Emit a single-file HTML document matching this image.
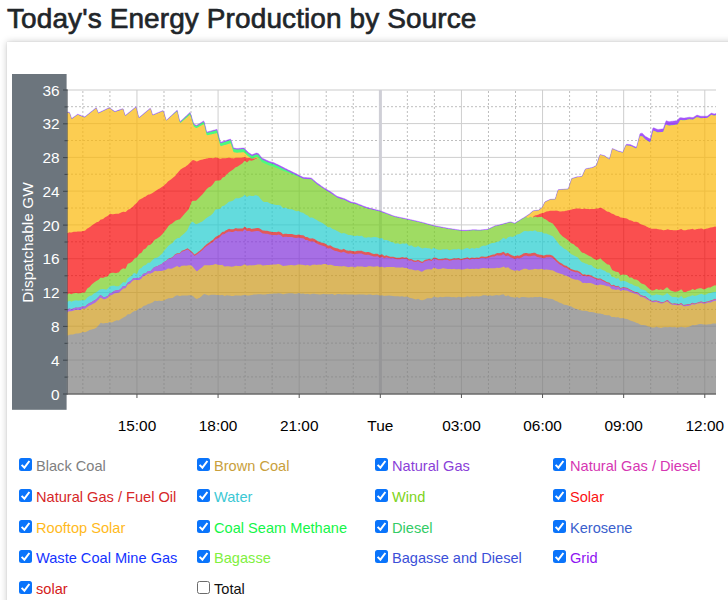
<!DOCTYPE html>
<html lang="en">
<head>
<meta charset="utf-8">
<title>Today's Energy Production by Source</title>
<style>
html,body{margin:0;padding:0;background:#fff;}
body{width:728px;height:600px;overflow:hidden;position:relative;font-family:"Liberation Sans",sans-serif;color:#212529;}
h3{position:absolute;left:7px;top:2px;margin:0;font-size:28px;line-height:34px;font-weight:400;color:#212529;white-space:nowrap;letter-spacing:0.1px;-webkit-text-stroke:0.65px #212529;}
.card{position:absolute;left:7px;top:41.5px;width:760px;height:640px;background:#fff;box-shadow:0 0 7px rgba(0,0,0,.22),0 0 1px rgba(0,0,0,.12);}
.chart{position:absolute;left:0;top:0;}
.gmaj{stroke:#cecece;stroke-width:1;}
.gmin{stroke:#bebebe;stroke-width:1;stroke-dasharray:2 2;}
.gtop{stroke:#dcdcdc;stroke-width:1.6;}
.gday{stroke:#cfcfd6;stroke-width:3;}
.axis{stroke:#4d555c;stroke-width:1.2;}
.axisx{stroke:#6a6a6a;stroke-width:1.4;}
.tick{stroke:#3f464c;stroke-width:1;}
.xtick{stroke:#555;stroke-width:1;}
.yl{font-family:"Liberation Sans",sans-serif;font-size:15.4px;fill:#fff;text-anchor:end;}
.xl{font-family:"Liberation Sans",sans-serif;font-size:15.4px;fill:#000;text-anchor:middle;}
.ylab{font-family:"Liberation Sans",sans-serif;font-size:15.4px;fill:#fff;text-anchor:middle;letter-spacing:0.05px;}
.li{position:absolute;display:block;height:14px;white-space:nowrap;font-size:14.6px;line-height:14px;}
.cb{position:absolute;left:0;top:0;width:13px;height:13px;box-sizing:border-box;border-radius:2.5px;display:block;}
.cb.on{background:#0a74fb;}
.cb.on svg{position:absolute;left:0;top:0;}
.cb.off{border:1.3px solid #6b6b6b;background:#fff;border-radius:2.5px;}
.lt{position:absolute;left:17px;top:1px;}
</style>
</head>
<body>
<h3>Today's Energy Production by Source</h3>
<div class="card"></div>
<svg class="chart" width="728" height="600" viewBox="0 0 728 600">
<rect x="12" y="74" width="54.6" height="335.8" fill="#6c757d"/>
<g class="grid">
<line x1="67.0" y1="90.0" x2="716.0" y2="90.0" class="gtop"/>
<line x1="82.87" y1="91.0" x2="82.87" y2="394.0" class="gmin"/>
<line x1="109.91" y1="91.0" x2="109.91" y2="394.0" class="gmin"/>
<line x1="136.95" y1="90.0" x2="136.95" y2="394.0" class="gmaj"/>
<line x1="163.99" y1="91.0" x2="163.99" y2="394.0" class="gmin"/>
<line x1="191.03" y1="91.0" x2="191.03" y2="394.0" class="gmin"/>
<line x1="218.07" y1="90.0" x2="218.07" y2="394.0" class="gmaj"/>
<line x1="245.11" y1="91.0" x2="245.11" y2="394.0" class="gmin"/>
<line x1="272.15" y1="91.0" x2="272.15" y2="394.0" class="gmin"/>
<line x1="299.19" y1="90.0" x2="299.19" y2="394.0" class="gmaj"/>
<line x1="326.23" y1="91.0" x2="326.23" y2="394.0" class="gmin"/>
<line x1="353.27" y1="91.0" x2="353.27" y2="394.0" class="gmin"/>
<line x1="407.35" y1="91.0" x2="407.35" y2="394.0" class="gmin"/>
<line x1="434.39" y1="91.0" x2="434.39" y2="394.0" class="gmin"/>
<line x1="461.43" y1="90.0" x2="461.43" y2="394.0" class="gmaj"/>
<line x1="488.47" y1="91.0" x2="488.47" y2="394.0" class="gmin"/>
<line x1="515.51" y1="91.0" x2="515.51" y2="394.0" class="gmin"/>
<line x1="542.55" y1="90.0" x2="542.55" y2="394.0" class="gmaj"/>
<line x1="569.59" y1="91.0" x2="569.59" y2="394.0" class="gmin"/>
<line x1="596.63" y1="91.0" x2="596.63" y2="394.0" class="gmin"/>
<line x1="623.67" y1="90.0" x2="623.67" y2="394.0" class="gmaj"/>
<line x1="650.71" y1="91.0" x2="650.71" y2="394.0" class="gmin"/>
<line x1="677.75" y1="91.0" x2="677.75" y2="394.0" class="gmin"/>
<line x1="704.79" y1="90.0" x2="704.79" y2="394.0" class="gmaj"/>
<line x1="67.0" y1="376.9" x2="716.0" y2="376.9" class="gmin"/>
<line x1="67.0" y1="360.0" x2="716.0" y2="360.0" class="gmaj"/>
<line x1="67.0" y1="343.1" x2="716.0" y2="343.1" class="gmin"/>
<line x1="67.0" y1="326.2" x2="716.0" y2="326.2" class="gmaj"/>
<line x1="67.0" y1="309.4" x2="716.0" y2="309.4" class="gmin"/>
<line x1="67.0" y1="292.5" x2="716.0" y2="292.5" class="gmaj"/>
<line x1="67.0" y1="275.6" x2="716.0" y2="275.6" class="gmin"/>
<line x1="67.0" y1="258.7" x2="716.0" y2="258.7" class="gmaj"/>
<line x1="67.0" y1="241.8" x2="716.0" y2="241.8" class="gmin"/>
<line x1="67.0" y1="224.9" x2="716.0" y2="224.9" class="gmaj"/>
<line x1="67.0" y1="208.0" x2="716.0" y2="208.0" class="gmin"/>
<line x1="67.0" y1="191.1" x2="716.0" y2="191.1" class="gmaj"/>
<line x1="67.0" y1="174.2" x2="716.0" y2="174.2" class="gmin"/>
<line x1="67.0" y1="157.4" x2="716.0" y2="157.4" class="gmaj"/>
<line x1="67.0" y1="140.5" x2="716.0" y2="140.5" class="gmin"/>
<line x1="67.0" y1="123.6" x2="716.0" y2="123.6" class="gmaj"/>
<line x1="67.0" y1="106.7" x2="716.0" y2="106.7" class="gmin"/>
<line x1="380.4" y1="90.0" x2="380.4" y2="394.0" class="gday"/>
</g>
<g class="layers" opacity="0.7">
<polygon points="67.00,112.20 67.75,112.20 68.50,112.20 69.25,112.20 70.00,113.72 70.75,116.01 71.50,118.30 72.25,118.13 73.00,117.59 73.75,117.05 74.50,116.51 75.25,115.97 76.00,115.43 76.75,114.89 77.50,114.34 78.25,114.42 79.00,114.73 79.75,115.03 80.50,115.34 81.25,115.64 82.00,115.94 82.75,116.25 83.50,116.55 84.25,116.86 85.00,116.68 85.75,116.08 86.50,115.47 87.25,114.87 88.00,114.27 88.75,113.67 89.50,113.06 90.25,112.46 91.00,111.86 91.75,111.26 92.50,110.65 93.25,110.05 94.00,109.45 94.75,108.85 95.50,108.24 96.25,107.64 97.00,109.46 97.75,111.44 98.50,112.80 99.25,112.44 100.00,112.08 100.75,111.72 101.50,111.36 102.25,111.00 103.00,110.64 103.75,110.27 104.50,109.91 105.25,109.55 106.00,109.19 106.75,108.83 107.50,108.47 108.25,108.11 109.00,107.74 109.75,107.92 110.50,108.45 111.25,108.98 112.00,109.51 112.75,110.05 113.50,110.58 114.25,111.11 115.00,111.43 115.75,111.16 116.50,110.89 117.25,110.61 118.00,110.34 118.75,110.07 119.50,109.80 120.25,109.53 121.00,109.26 121.75,108.99 122.50,108.72 123.25,109.03 124.00,111.70 124.75,114.36 125.50,115.28 126.25,114.67 127.00,114.06 127.75,113.46 128.50,112.85 129.25,112.24 130.00,111.64 130.75,111.03 131.50,110.42 132.25,109.81 133.00,109.21 133.75,108.60 134.50,107.99 135.25,107.39 136.00,106.78 136.75,109.25 137.50,112.20 138.25,115.15 139.00,117.62 139.75,116.99 140.50,116.36 141.25,115.73 142.00,115.11 142.75,114.48 143.50,113.85 144.25,113.23 145.00,112.60 145.75,111.97 146.50,111.34 147.25,110.72 148.00,110.09 148.75,109.46 149.50,108.84 150.25,108.21 151.00,109.64 151.75,112.11 152.50,114.57 153.25,114.63 154.00,114.32 154.75,114.00 155.50,113.69 156.25,113.38 157.00,113.07 157.75,112.75 158.50,112.44 159.25,112.13 160.00,111.82 160.75,111.50 161.50,111.19 162.25,110.88 163.00,110.57 163.75,111.65 164.50,114.33 165.25,117.01 166.00,119.69 166.75,119.88 167.50,119.18 168.25,118.48 169.00,117.78 169.75,117.08 170.50,116.37 171.25,115.67 172.00,114.97 172.75,114.27 173.50,113.56 174.25,112.86 175.00,112.16 175.75,111.46 176.50,110.76 177.25,110.32 178.00,113.57 178.75,116.82 179.50,120.07 180.25,121.47 181.00,120.77 181.75,120.08 182.50,119.38 183.25,118.68 184.00,117.98 184.75,117.28 185.50,116.58 186.25,115.88 187.00,115.18 187.75,114.48 188.50,113.78 189.25,113.09 190.00,112.39 190.75,114.02 191.50,116.51 192.25,118.99 193.00,121.48 193.75,123.83 194.50,124.30 195.25,124.78 196.00,125.25 196.75,125.28 197.50,124.82 198.25,124.36 199.00,123.89 199.75,123.43 200.50,122.96 201.25,122.50 202.00,122.04 202.75,121.57 203.50,121.11 204.25,121.85 205.00,124.99 205.75,128.12 206.50,131.26 207.25,131.95 208.00,131.75 208.75,131.54 209.50,131.34 210.25,131.13 211.00,130.93 211.75,130.73 212.50,130.52 213.25,130.32 214.00,130.12 214.75,129.91 215.50,129.71 216.25,129.50 217.00,129.30 217.75,132.19 218.50,135.08 219.25,137.97 220.00,140.86 220.75,142.28 221.50,142.04 222.25,141.79 223.00,141.54 223.75,141.29 224.50,141.05 225.25,140.80 226.00,140.55 226.75,140.30 227.50,140.06 228.25,139.81 229.00,139.56 229.75,139.31 230.50,139.07 231.25,140.75 232.00,143.13 232.75,145.52 233.50,147.90 234.25,148.05 235.00,148.21 235.75,148.36 236.50,148.52 237.25,148.56 238.00,148.49 238.75,148.41 239.50,148.34 240.25,148.26 241.00,148.18 241.75,148.11 242.50,148.03 243.25,147.96 244.00,148.10 244.75,148.85 245.50,149.60 246.25,150.35 247.00,151.10 247.75,151.85 248.50,152.41 249.25,152.92 250.00,153.43 250.75,153.95 251.50,154.46 252.25,154.69 253.00,154.37 253.75,154.05 254.50,153.73 255.25,153.41 256.00,153.09 256.75,153.12 257.50,153.30 258.25,153.47 259.00,154.27 259.75,155.24 260.50,156.20 261.25,157.16 262.00,158.05 262.75,158.40 263.50,158.75 264.25,159.11 265.00,159.46 265.75,159.81 266.50,160.16 267.25,160.52 268.00,160.87 268.75,161.22 269.50,161.45 270.25,161.68 271.00,161.91 271.75,162.14 272.50,162.37 273.25,162.61 274.00,162.84 274.75,163.16 275.50,163.52 276.25,163.88 277.00,164.23 277.75,164.59 278.50,164.95 279.25,165.34 280.00,165.72 280.75,166.10 281.50,166.49 282.25,166.87 283.00,167.25 283.75,167.62 284.50,168.00 285.25,168.38 286.00,168.75 286.75,169.12 287.50,169.50 288.25,169.88 289.00,170.25 289.75,170.62 290.50,170.99 291.25,171.36 292.00,171.73 292.75,172.10 293.50,172.47 294.25,172.84 295.00,173.21 295.75,173.58 296.50,173.95 297.25,174.33 298.00,174.71 298.75,175.09 299.50,175.47 300.25,175.85 301.00,176.23 301.75,176.62 302.50,177.00 303.25,177.31 304.00,177.38 304.75,177.44 305.50,177.50 306.25,177.57 307.00,177.63 307.75,177.70 308.50,177.76 309.25,177.82 310.00,177.89 310.75,177.95 311.50,178.17 312.25,178.83 313.00,179.48 313.75,180.14 314.50,180.79 315.25,181.45 316.00,182.10 316.75,182.76 317.50,183.29 318.25,183.81 319.00,184.33 319.75,184.85 320.50,185.37 321.25,185.90 322.00,186.42 322.75,186.94 323.50,187.46 324.25,187.93 325.00,188.38 325.75,188.84 326.50,189.29 327.25,189.74 328.00,190.19 328.75,190.64 329.50,191.10 330.25,191.55 331.00,192.05 331.75,192.57 332.50,193.09 333.25,193.61 334.00,194.13 334.75,194.66 335.50,195.18 336.25,195.70 337.00,196.22 337.75,196.61 338.50,196.83 339.25,197.06 340.00,197.29 340.75,197.52 341.50,197.75 342.25,197.98 343.00,198.20 343.75,198.43 344.50,198.70 345.25,199.07 346.00,199.44 346.75,199.81 347.50,200.18 348.25,200.55 349.00,200.92 349.75,201.29 350.50,201.66 351.25,202.01 352.00,202.15 352.75,202.29 353.50,202.42 354.25,202.56 355.00,202.70 355.75,202.99 356.50,203.29 357.25,203.58 358.00,203.88 358.75,204.17 359.50,204.46 360.25,204.76 361.00,205.05 361.75,205.34 362.50,205.64 363.25,205.93 364.00,206.22 364.75,206.52 365.50,206.81 366.25,207.11 367.00,207.40 367.75,207.59 368.50,207.78 369.25,207.97 370.00,208.16 370.75,208.35 371.50,208.54 372.25,208.73 373.00,208.92 373.75,209.11 374.50,209.30 375.25,209.49 376.00,209.68 376.75,209.88 377.50,210.07 378.25,210.26 379.00,210.45 379.75,210.64 380.50,210.89 381.25,211.18 382.00,211.46 382.75,211.75 383.50,212.04 384.25,212.32 385.00,212.61 385.75,212.90 386.50,213.18 387.25,213.47 388.00,213.76 388.75,214.04 389.50,214.33 390.25,214.61 391.00,214.90 391.75,215.19 392.50,215.47 393.25,215.76 394.00,216.05 394.75,216.27 395.50,216.43 396.25,216.59 397.00,216.75 397.75,216.91 398.50,217.06 399.25,217.22 400.00,217.38 400.75,217.54 401.50,217.70 402.25,217.86 403.00,218.01 403.75,218.17 404.50,218.33 405.25,218.49 406.00,218.65 406.75,218.81 407.50,218.97 408.25,219.14 409.00,219.31 409.75,219.48 410.50,219.66 411.25,219.83 412.00,220.00 412.75,220.17 413.50,220.34 414.25,220.52 415.00,220.69 415.75,220.86 416.50,221.03 417.25,221.20 418.00,221.38 418.75,221.55 419.50,221.72 420.25,221.89 421.00,222.06 421.75,222.24 422.50,222.45 423.25,222.65 424.00,222.86 424.75,223.06 425.50,223.27 426.25,223.47 427.00,223.68 427.75,223.88 428.50,224.09 429.25,224.29 430.00,224.50 430.75,224.70 431.50,224.91 432.25,225.11 433.00,225.32 433.75,225.52 434.50,225.72 435.25,225.86 436.00,226.00 436.75,226.14 437.50,226.28 438.25,226.42 439.00,226.56 439.75,226.70 440.50,226.84 441.25,226.98 442.00,227.12 442.75,227.27 443.50,227.41 444.25,227.55 445.00,227.69 445.75,227.83 446.50,227.97 447.25,228.11 448.00,228.25 448.75,228.39 449.50,228.50 450.25,228.62 451.00,228.73 451.75,228.84 452.50,228.95 453.25,229.07 454.00,229.18 454.75,229.29 455.50,229.40 456.25,229.51 457.00,229.63 457.75,229.74 458.50,229.85 459.25,229.96 460.00,230.08 460.75,230.19 461.50,230.30 462.25,230.30 463.00,230.30 463.75,230.30 464.50,230.30 465.25,230.30 466.00,230.30 466.75,230.30 467.50,230.25 468.25,230.18 469.00,230.10 469.75,230.03 470.50,229.95 471.25,229.88 472.00,229.80 472.75,229.72 473.50,229.72 474.25,229.75 475.00,229.79 475.75,229.82 476.50,229.85 477.25,229.88 478.00,229.91 478.75,229.95 479.50,229.98 480.25,229.97 481.00,229.90 481.75,229.82 482.50,229.75 483.25,229.67 484.00,229.60 484.75,229.53 485.50,229.45 486.25,229.38 487.00,229.30 487.75,229.22 488.50,228.96 489.25,228.59 490.00,228.23 490.75,227.86 491.50,227.50 492.25,227.14 493.00,226.77 493.75,226.41 494.50,226.04 495.25,225.75 496.00,225.58 496.75,225.42 497.50,225.26 498.25,225.09 499.00,224.93 499.75,224.76 500.50,224.55 501.25,224.35 502.00,224.15 502.75,223.94 503.50,223.74 504.25,223.53 505.00,223.33 505.75,223.12 506.50,222.92 507.25,222.71 508.00,222.51 508.75,222.30 509.50,222.10 510.25,221.90 511.00,221.94 511.75,222.19 512.50,222.45 513.25,222.70 514.00,222.96 514.75,223.17 515.50,222.71 516.25,222.26 517.00,221.80 517.75,221.34 518.50,220.89 519.25,220.43 520.00,219.97 520.75,219.52 521.50,219.06 522.25,218.60 523.00,218.14 523.75,217.67 524.50,217.21 525.25,216.74 526.00,216.24 526.75,215.75 527.50,215.25 528.25,214.76 529.00,214.27 529.75,213.65 530.50,213.00 531.25,212.36 532.00,211.72 532.75,211.08 533.50,210.67 534.25,210.59 535.00,210.50 535.75,210.42 536.50,210.34 537.25,210.26 538.00,210.18 538.75,210.06 539.50,209.46 540.25,208.86 541.00,208.26 541.75,207.66 542.50,206.69 543.25,205.16 544.00,203.63 544.75,202.11 545.50,201.53 546.25,201.19 547.00,200.85 547.75,200.50 548.50,200.16 549.25,199.82 550.00,199.48 550.75,199.29 551.50,199.25 552.25,199.22 553.00,199.19 553.75,199.16 554.50,199.13 555.25,198.93 556.00,196.41 556.75,193.90 557.50,191.38 558.25,189.68 559.00,189.61 559.75,189.55 560.50,189.48 561.25,189.42 562.00,189.35 562.75,189.28 563.50,189.22 564.25,189.15 565.00,189.09 565.75,189.02 566.50,188.96 567.25,188.89 568.00,188.83 568.75,187.44 569.50,185.16 570.25,182.89 571.00,180.62 571.75,178.48 572.50,178.25 573.25,178.02 574.00,177.79 574.75,177.56 575.50,177.33 576.25,177.09 577.00,176.86 577.75,176.75 578.50,176.69 579.25,176.63 580.00,176.57 580.75,176.50 581.50,176.44 582.25,175.84 583.00,174.16 583.75,172.49 584.50,170.81 585.25,169.14 586.00,168.69 586.75,168.55 587.50,168.40 588.25,168.26 589.00,168.12 589.75,167.98 590.50,167.84 591.25,167.70 592.00,167.56 592.75,167.27 593.50,166.89 594.25,166.50 595.00,166.12 595.75,165.73 596.50,165.09 597.25,162.73 598.00,160.37 598.75,158.01 599.50,155.66 600.25,154.50 601.00,154.72 601.75,154.94 602.50,155.16 603.25,155.38 604.00,155.60 604.75,155.84 605.50,156.37 606.25,156.90 607.00,157.43 607.75,157.96 608.50,158.49 609.25,159.02 610.00,157.22 610.75,154.25 611.50,151.27 612.25,148.52 613.00,148.82 613.75,149.12 614.50,149.43 615.25,149.73 616.00,150.03 616.75,150.33 617.50,150.64 618.25,150.94 619.00,151.16 619.75,151.37 620.50,151.57 621.25,151.78 622.00,151.98 622.75,152.19 623.50,150.55 624.25,148.79 625.00,147.02 625.75,145.26 626.50,144.23 627.25,144.30 628.00,144.37 628.75,144.44 629.50,144.51 630.25,144.59 631.00,144.88 631.75,145.22 632.50,145.56 633.25,145.91 634.00,146.25 634.75,146.60 635.50,146.94 636.25,147.29 637.00,145.44 637.75,142.51 638.50,139.57 639.25,136.64 640.00,133.70 640.75,133.44 641.50,133.18 642.25,133.24 643.00,133.97 643.75,134.70 644.50,135.43 645.25,136.16 646.00,136.68 646.75,137.10 647.50,137.53 648.25,137.95 649.00,138.37 649.75,138.79 650.50,138.24 651.25,135.02 652.00,131.80 652.75,128.57 653.50,127.71 654.25,128.02 655.00,128.33 655.75,128.65 656.50,128.96 657.25,129.27 658.00,129.47 658.75,129.38 659.50,129.28 660.25,129.19 661.00,129.09 661.75,129.00 662.50,128.90 663.25,128.81 664.00,126.75 664.75,124.55 665.50,122.36 666.25,120.66 667.00,120.97 667.75,121.27 668.50,121.58 669.25,121.64 670.00,121.54 670.75,121.44 671.50,121.34 672.25,121.24 673.00,121.14 673.75,121.04 674.50,120.94 675.25,120.85 676.00,120.75 676.75,120.65 677.50,120.16 678.25,119.32 679.00,118.49 679.75,117.66 680.50,117.69 681.25,117.78 682.00,117.87 682.75,117.96 683.50,118.05 684.25,118.04 685.00,117.92 685.75,117.80 686.50,117.67 687.25,117.55 688.00,117.43 688.75,117.31 689.50,117.21 690.25,117.30 691.00,117.38 691.75,117.47 692.50,117.55 693.25,117.39 694.00,116.93 694.75,116.47 695.50,116.01 696.25,115.56 697.00,115.10 697.75,115.34 698.50,115.59 699.25,115.83 700.00,116.07 700.75,116.20 701.50,116.20 702.25,116.20 703.00,116.20 703.75,116.20 704.50,116.20 705.25,116.20 706.00,116.20 706.75,116.20 707.50,116.04 708.25,115.46 709.00,114.87 709.75,114.29 710.50,113.70 711.25,113.12 712.00,113.24 712.75,113.53 713.50,113.82 714.25,114.08 715.00,113.83 715.75,113.58 716.00,113.50 716.00,394.0 67.00,394.0" fill="#7d0ef6"/>
<polygon points="67.00,112.80 67.75,112.80 68.50,112.80 69.25,112.80 70.00,114.32 70.75,116.61 71.50,118.90 72.25,118.73 73.00,118.19 73.75,117.65 74.50,117.11 75.25,116.57 76.00,116.03 76.75,115.49 77.50,114.94 78.25,115.02 79.00,115.33 79.75,115.63 80.50,115.94 81.25,116.24 82.00,116.54 82.75,116.85 83.50,117.15 84.25,117.46 85.00,117.28 85.75,116.68 86.50,116.07 87.25,115.47 88.00,114.87 88.75,114.27 89.50,113.66 90.25,113.06 91.00,112.46 91.75,111.86 92.50,111.25 93.25,110.65 94.00,110.05 94.75,109.45 95.50,108.84 96.25,108.24 97.00,110.06 97.75,112.04 98.50,113.40 99.25,113.04 100.00,112.68 100.75,112.32 101.50,111.96 102.25,111.60 103.00,111.24 103.75,110.87 104.50,110.51 105.25,110.15 106.00,109.79 106.75,109.43 107.50,109.07 108.25,108.71 109.00,108.34 109.75,108.52 110.50,109.05 111.25,109.58 112.00,110.11 112.75,110.65 113.50,111.18 114.25,111.71 115.00,112.03 115.75,111.76 116.50,111.49 117.25,111.21 118.00,110.94 118.75,110.67 119.50,110.40 120.25,110.13 121.00,109.86 121.75,109.59 122.50,109.32 123.25,109.63 124.00,112.30 124.75,114.96 125.50,115.88 126.25,115.27 127.00,114.66 127.75,114.06 128.50,113.45 129.25,112.84 130.00,112.24 130.75,111.63 131.50,111.02 132.25,110.41 133.00,109.81 133.75,109.20 134.50,108.59 135.25,107.99 136.00,107.38 136.75,109.85 137.50,112.80 138.25,115.75 139.00,118.22 139.75,117.59 140.50,116.96 141.25,116.33 142.00,115.71 142.75,115.08 143.50,114.45 144.25,113.83 145.00,113.20 145.75,112.57 146.50,111.94 147.25,111.32 148.00,110.69 148.75,110.06 149.50,109.44 150.25,108.81 151.00,110.24 151.75,112.71 152.50,115.17 153.25,115.23 154.00,114.92 154.75,114.60 155.50,114.29 156.25,113.98 157.00,113.67 157.75,113.35 158.50,113.04 159.25,112.73 160.00,112.42 160.75,112.10 161.50,111.79 162.25,111.48 163.00,111.17 163.75,112.25 164.50,114.93 165.25,117.61 166.00,120.29 166.75,120.48 167.50,119.78 168.25,119.08 169.00,118.38 169.75,117.68 170.50,116.98 171.25,116.28 172.00,115.58 172.75,114.89 173.50,114.19 174.25,113.49 175.00,112.79 175.75,112.10 176.50,111.40 177.25,110.97 178.00,114.22 178.75,117.47 179.50,120.73 180.25,122.14 181.00,121.45 181.75,120.75 182.50,120.06 183.25,119.37 184.00,118.67 184.75,117.98 185.50,117.28 186.25,116.59 187.00,115.90 187.75,115.20 188.50,114.51 189.25,113.81 190.00,113.12 190.75,114.76 191.50,117.25 192.25,119.74 193.00,122.23 193.75,124.59 194.50,125.07 195.25,125.54 196.00,126.02 196.75,126.06 197.50,125.60 198.25,125.14 199.00,124.69 199.75,124.23 200.50,123.77 201.25,123.31 202.00,122.85 202.75,122.39 203.50,121.93 204.25,122.67 205.00,125.81 205.75,128.95 206.50,132.10 207.25,132.79 208.00,132.59 208.75,132.39 209.50,132.19 210.25,131.99 211.00,131.79 211.75,131.59 212.50,131.39 213.25,131.19 214.00,130.99 214.75,130.79 215.50,130.59 216.25,130.39 217.00,130.19 217.75,133.08 218.50,135.97 219.25,138.87 220.00,141.76 220.75,143.19 221.50,142.94 222.25,142.70 223.00,142.46 223.75,142.21 224.50,141.97 225.25,141.73 226.00,141.48 226.75,141.24 227.50,140.99 228.25,140.75 229.00,140.51 229.75,140.26 230.50,140.02 231.25,141.70 232.00,144.09 232.75,146.48 233.50,148.87 234.25,149.03 235.00,149.18 235.75,149.34 236.50,149.50 237.25,149.55 238.00,149.48 238.75,149.41 239.50,149.33 240.25,149.27 241.00,149.21 241.75,149.15 242.50,149.09 243.25,149.03 244.00,149.19 244.75,149.96 245.50,150.72 246.25,151.49 247.00,152.26 247.75,153.02 248.50,153.60 249.25,154.13 250.00,154.66 250.75,155.19 251.50,155.71 252.25,155.97 253.00,155.66 253.75,155.36 254.50,155.05 255.25,154.75 256.00,154.44 256.75,154.50 257.50,154.68 258.25,154.87 259.00,155.67 259.75,156.64 260.50,157.60 261.25,158.56 262.00,159.45 262.75,159.80 263.50,160.15 264.25,160.51 265.00,160.86 265.75,161.21 266.50,161.56 267.25,161.92 268.00,162.27 268.75,162.62 269.50,162.85 270.25,163.08 271.00,163.31 271.75,163.54 272.50,163.77 273.25,164.01 274.00,164.24 274.75,164.56 275.50,164.92 276.25,165.28 277.00,165.63 277.75,165.99 278.50,166.35 279.25,166.74 280.00,167.12 280.75,167.50 281.50,167.89 282.25,168.27 283.00,168.65 283.75,169.03 284.50,169.40 285.25,169.78 286.00,170.15 286.75,170.53 287.50,170.90 288.25,171.28 289.00,171.65 289.75,172.02 290.50,172.39 291.25,172.76 292.00,173.13 292.75,173.50 293.50,173.87 294.25,174.24 295.00,174.61 295.75,174.98 296.50,175.35 297.25,175.73 298.00,176.11 298.75,176.49 299.50,176.87 300.25,177.25 301.00,177.63 301.75,178.02 302.50,178.40 303.25,178.71 304.00,178.78 304.75,178.84 305.50,178.90 306.25,178.97 307.00,179.03 307.75,179.10 308.50,179.16 309.25,179.22 310.00,179.29 310.75,179.35 311.50,179.57 312.25,180.23 313.00,180.88 313.75,181.54 314.50,182.19 315.25,182.85 316.00,183.50 316.75,184.16 317.50,184.69 318.25,185.21 319.00,185.73 319.75,186.25 320.50,186.77 321.25,187.30 322.00,187.82 322.75,188.34 323.50,188.86 324.25,189.33 325.00,189.78 325.75,190.24 326.50,190.69 327.25,191.14 328.00,191.59 328.75,192.04 329.50,192.50 330.25,192.95 331.00,193.45 331.75,193.97 332.50,194.49 333.25,195.01 334.00,195.53 334.75,196.06 335.50,196.58 336.25,197.10 337.00,197.62 337.75,198.01 338.50,198.23 339.25,198.46 340.00,198.69 340.75,198.92 341.50,199.15 342.25,199.38 343.00,199.60 343.75,199.83 344.50,200.10 345.25,200.47 346.00,200.83 346.75,201.19 347.50,201.55 348.25,201.91 349.00,202.27 349.75,202.63 350.50,202.99 351.25,203.33 352.00,203.46 352.75,203.59 353.50,203.72 354.25,203.85 355.00,203.98 355.75,204.26 356.50,204.55 357.25,204.83 358.00,205.12 358.75,205.40 359.50,205.69 360.25,205.97 361.00,206.26 361.75,206.54 362.50,206.83 363.25,207.11 364.00,207.40 364.75,207.68 365.50,207.97 366.25,208.25 367.00,208.54 367.75,208.72 368.50,208.90 369.25,209.08 370.00,209.26 370.75,209.44 371.50,209.62 372.25,209.80 373.00,209.98 373.75,210.16 374.50,210.34 375.25,210.52 376.00,210.69 376.75,210.87 377.50,211.05 378.25,211.23 379.00,211.41 379.75,211.59 380.50,211.83 381.25,212.11 382.00,212.38 382.75,212.66 383.50,212.93 384.25,213.21 385.00,213.48 385.75,213.76 386.50,214.04 387.25,214.31 388.00,214.59 388.75,214.86 389.50,215.14 390.25,215.41 391.00,215.70 391.75,215.98 392.50,216.27 393.25,216.55 394.00,216.84 394.75,217.06 395.50,217.22 396.25,217.38 397.00,217.53 397.75,217.69 398.50,217.85 399.25,218.00 400.00,218.16 400.75,218.31 401.50,218.47 402.25,218.63 403.00,218.78 403.75,218.94 404.50,219.10 405.25,219.25 406.00,219.41 406.75,219.57 407.50,219.73 408.25,219.90 409.00,220.07 409.75,220.24 410.50,220.41 411.25,220.58 412.00,220.75 412.75,220.92 413.50,221.09 414.25,221.26 415.00,221.43 415.75,221.60 416.50,221.77 417.25,221.94 418.00,222.11 418.75,222.28 419.50,222.45 420.25,222.62 421.00,222.79 421.75,222.97 422.50,223.17 423.25,223.37 424.00,223.58 424.75,223.78 425.50,223.98 426.25,224.19 427.00,224.39 427.75,224.59 428.50,224.80 429.25,225.00 430.00,225.20 430.75,225.41 431.50,225.61 432.25,225.81 433.00,226.02 433.75,226.22 434.50,226.42 435.25,226.55 436.00,226.69 436.75,226.83 437.50,226.97 438.25,227.11 439.00,227.25 439.75,227.39 440.50,227.53 441.25,227.67 442.00,227.81 442.75,227.94 443.50,228.08 444.25,228.22 445.00,228.36 445.75,228.50 446.50,228.64 447.25,228.78 448.00,228.92 448.75,229.06 449.50,229.17 450.25,229.28 451.00,229.39 451.75,229.50 452.50,229.61 453.25,229.72 454.00,229.83 454.75,229.94 455.50,230.05 456.25,230.16 457.00,230.27 457.75,230.38 458.50,230.49 459.25,230.60 460.00,230.71 460.75,230.82 461.50,230.94 462.25,230.93 463.00,230.93 463.75,230.93 464.50,230.93 465.25,230.93 466.00,230.92 466.75,230.92 467.50,230.87 468.25,230.79 469.00,230.72 469.75,230.64 470.50,230.56 471.25,230.49 472.00,230.41 472.75,230.33 473.50,230.33 474.25,230.36 475.00,230.39 475.75,230.42 476.50,230.45 477.25,230.48 478.00,230.51 478.75,230.54 479.50,230.57 480.25,230.57 481.00,230.49 481.75,230.41 482.50,230.34 483.25,230.26 484.00,230.18 484.75,230.11 485.50,230.03 486.25,229.95 487.00,229.88 487.75,229.80 488.50,229.53 489.25,229.16 490.00,228.80 490.75,228.43 491.50,228.07 492.25,227.70 493.00,227.33 493.75,226.97 494.50,226.60 495.25,226.30 496.00,226.14 496.75,225.97 497.50,225.81 498.25,225.64 499.00,225.48 499.75,225.31 500.50,225.10 501.25,224.89 502.00,224.69 502.75,224.48 503.50,224.27 504.25,224.07 505.00,223.86 505.75,223.66 506.50,223.45 507.25,223.24 508.00,223.04 508.75,222.83 509.50,222.62 510.25,222.42 511.00,222.46 511.75,222.71 512.50,222.97 513.25,223.22 514.00,223.47 514.75,223.68 515.50,223.22 516.25,222.77 517.00,222.31 517.75,221.85 518.50,221.39 519.25,220.93 520.00,220.47 520.75,220.01 521.50,219.55 522.25,219.08 523.00,218.61 523.75,218.13 524.50,217.66 525.25,217.18 526.00,216.68 526.75,216.18 527.50,215.68 528.25,215.18 529.00,214.68 529.75,214.05 530.50,213.40 531.25,212.75 532.00,212.10 532.75,211.46 533.50,211.03 534.25,210.94 535.00,210.85 535.75,210.76 536.50,210.68 537.25,210.59 538.00,210.50 538.75,210.37 539.50,209.77 540.25,209.16 541.00,208.56 541.75,207.96 542.50,206.99 543.25,205.47 544.00,203.94 544.75,202.41 545.50,201.83 546.25,201.50 547.00,201.16 547.75,200.82 548.50,200.48 549.25,200.14 550.00,199.80 550.75,199.60 551.50,199.57 552.25,199.54 553.00,199.51 553.75,199.48 554.50,199.45 555.25,199.25 556.00,196.74 556.75,194.22 557.50,191.70 558.25,190.00 559.00,189.94 559.75,189.87 560.50,189.81 561.25,189.75 562.00,189.68 562.75,189.62 563.50,189.55 564.25,189.49 565.00,189.42 565.75,189.36 566.50,189.29 567.25,189.23 568.00,189.17 568.75,187.78 569.50,185.51 570.25,183.23 571.00,180.96 571.75,178.83 572.50,178.60 573.25,178.37 574.00,178.14 574.75,177.91 575.50,177.67 576.25,177.44 577.00,177.21 577.75,177.11 578.50,177.05 579.25,176.98 580.00,176.92 580.75,176.86 581.50,176.80 582.25,176.20 583.00,174.52 583.75,172.85 584.50,171.17 585.25,169.50 586.00,169.05 586.75,168.91 587.50,168.77 588.25,168.63 589.00,168.49 589.75,168.35 590.50,168.21 591.25,168.07 592.00,167.93 592.75,167.64 593.50,167.26 594.25,166.88 595.00,166.49 595.75,166.11 596.50,165.46 597.25,163.11 598.00,160.75 598.75,158.40 599.50,156.04 600.25,154.89 601.00,155.11 601.75,155.33 602.50,155.55 603.25,155.76 604.00,155.98 604.75,156.23 605.50,156.76 606.25,157.29 607.00,157.82 607.75,158.35 608.50,158.89 609.25,159.42 610.00,157.62 610.75,154.64 611.50,151.67 612.25,148.92 613.00,149.24 613.75,149.55 614.50,149.87 615.25,150.18 616.00,150.50 616.75,150.81 617.50,151.13 618.25,151.44 619.00,151.68 619.75,151.89 620.50,152.10 621.25,152.32 622.00,152.53 622.75,152.75 623.50,151.12 624.25,149.37 625.00,147.61 625.75,145.86 626.50,145.53 627.25,145.60 628.00,145.67 628.75,145.74 629.50,145.81 630.25,145.89 631.00,146.18 631.75,146.52 632.50,146.86 633.25,147.21 634.00,147.55 634.75,147.90 635.50,148.24 636.25,148.59 637.00,146.74 637.75,143.81 638.50,140.87 639.25,137.94 640.00,135.85 640.75,136.45 641.50,136.22 642.25,136.32 643.00,137.08 643.75,137.84 644.50,138.60 645.25,139.36 646.00,139.91 646.75,140.36 647.50,140.82 648.25,141.27 649.00,141.72 649.75,142.18 650.50,141.66 651.25,138.47 652.00,135.28 652.75,131.92 653.50,130.61 654.25,130.93 655.00,131.25 655.75,131.56 656.50,131.88 657.25,132.20 658.00,132.41 658.75,132.32 659.50,132.23 660.25,132.14 661.00,132.06 661.75,131.97 662.50,131.88 663.25,131.79 664.00,129.74 664.75,127.55 665.50,125.36 666.25,124.41 667.00,124.97 667.75,125.27 668.50,125.58 669.25,125.64 670.00,125.54 670.75,125.44 671.50,125.34 672.25,125.24 673.00,125.14 673.75,125.04 674.50,124.94 675.25,124.85 676.00,124.75 676.75,124.65 677.50,124.16 678.25,123.32 679.00,122.49 679.75,120.81 680.50,119.99 681.25,120.07 682.00,120.15 682.75,120.23 683.50,120.31 684.25,120.29 685.00,120.15 685.75,120.02 686.50,119.88 687.25,119.75 688.00,119.61 688.75,119.48 689.50,119.37 690.25,119.45 691.00,119.52 691.75,119.60 692.50,119.67 693.25,119.49 694.00,119.02 694.75,118.55 695.50,118.08 696.25,117.62 697.00,117.15 697.75,117.38 698.50,117.61 699.25,117.84 700.00,118.07 700.75,118.18 701.50,118.16 702.25,118.14 703.00,118.12 703.75,118.11 704.50,118.09 705.25,118.07 706.00,118.05 706.75,118.03 707.50,117.86 708.25,117.25 709.00,116.65 709.75,116.04 710.50,115.44 711.25,114.84 712.00,114.94 712.75,115.21 713.50,115.49 714.25,115.73 715.00,115.46 715.75,115.19 716.00,115.10 716.00,394.0 67.00,394.0" fill="#00f84a"/>
<polygon points="67.00,112.80 67.75,112.80 68.50,112.80 69.25,112.80 70.00,114.32 70.75,116.61 71.50,118.90 72.25,118.73 73.00,118.19 73.75,117.65 74.50,117.11 75.25,116.57 76.00,116.03 76.75,115.49 77.50,114.94 78.25,115.02 79.00,115.33 79.75,115.63 80.50,115.94 81.25,116.24 82.00,116.54 82.75,116.85 83.50,117.15 84.25,117.46 85.00,117.28 85.75,116.68 86.50,116.07 87.25,115.47 88.00,114.87 88.75,114.27 89.50,113.66 90.25,113.06 91.00,112.46 91.75,111.86 92.50,111.25 93.25,110.65 94.00,110.05 94.75,109.45 95.50,108.84 96.25,108.24 97.00,110.06 97.75,112.04 98.50,113.40 99.25,113.04 100.00,112.68 100.75,112.32 101.50,111.96 102.25,111.60 103.00,111.24 103.75,110.87 104.50,110.51 105.25,110.15 106.00,109.79 106.75,109.43 107.50,109.07 108.25,108.71 109.00,108.34 109.75,108.52 110.50,109.05 111.25,109.58 112.00,110.11 112.75,110.65 113.50,111.18 114.25,111.71 115.00,112.03 115.75,111.76 116.50,111.49 117.25,111.21 118.00,110.94 118.75,110.67 119.50,110.40 120.25,110.13 121.00,109.86 121.75,109.59 122.50,109.32 123.25,109.63 124.00,112.30 124.75,114.96 125.50,115.88 126.25,115.27 127.00,114.66 127.75,114.06 128.50,113.45 129.25,112.84 130.00,112.24 130.75,111.63 131.50,111.02 132.25,110.41 133.00,109.81 133.75,109.20 134.50,108.59 135.25,107.99 136.00,107.38 136.75,109.85 137.50,112.80 138.25,115.75 139.00,118.22 139.75,117.59 140.50,116.96 141.25,116.33 142.00,115.71 142.75,115.08 143.50,114.45 144.25,113.83 145.00,113.20 145.75,112.57 146.50,111.94 147.25,111.32 148.00,110.69 148.75,110.06 149.50,109.44 150.25,108.81 151.00,110.24 151.75,112.71 152.50,115.17 153.25,115.23 154.00,114.92 154.75,114.60 155.50,114.29 156.25,113.98 157.00,113.67 157.75,113.35 158.50,113.04 159.25,112.73 160.00,112.42 160.75,112.10 161.50,111.79 162.25,111.48 163.00,111.17 163.75,112.25 164.50,114.93 165.25,117.61 166.00,120.29 166.75,120.48 167.50,119.78 168.25,119.08 169.00,118.38 169.75,117.68 170.50,117.01 171.25,116.37 172.00,115.73 172.75,115.09 173.50,114.45 174.25,113.82 175.00,113.19 175.75,112.57 176.50,111.95 177.25,111.59 178.00,114.92 178.75,118.25 179.50,121.58 180.25,123.07 181.00,122.45 181.75,121.83 182.50,121.21 183.25,120.59 184.00,119.97 184.75,119.35 185.50,118.71 186.25,118.05 187.00,117.39 187.75,116.73 188.50,116.08 189.25,115.42 190.00,114.76 190.75,116.44 191.50,118.96 192.25,121.49 193.00,124.02 193.75,126.41 194.50,126.92 195.25,127.44 196.00,127.95 196.75,128.03 197.50,127.60 198.25,127.18 199.00,126.76 199.75,126.34 200.50,125.91 201.25,125.49 202.00,125.07 202.75,124.64 203.50,124.22 204.25,124.99 205.00,128.17 205.75,131.35 206.50,134.53 207.25,135.26 208.00,135.09 208.75,134.93 209.50,134.77 210.25,134.60 211.00,134.44 211.75,134.27 212.50,134.10 213.25,133.93 214.00,133.76 214.75,133.58 215.50,133.41 216.25,133.24 217.00,133.06 217.75,135.98 218.50,138.90 219.25,141.82 220.00,144.74 220.75,146.20 221.50,145.98 222.25,145.77 223.00,145.55 223.75,145.33 224.50,145.12 225.25,144.90 226.00,144.68 226.75,144.44 227.50,144.19 228.25,143.95 229.00,143.71 229.75,143.46 230.50,143.22 231.25,144.90 232.00,147.29 232.75,149.68 233.50,152.07 234.25,152.23 235.00,152.38 235.75,152.54 236.50,152.70 237.25,152.75 238.00,152.68 238.75,152.61 239.50,152.53 240.25,152.46 241.00,152.38 241.75,152.29 242.50,152.21 243.25,152.13 244.00,152.26 244.75,153.01 245.50,153.75 246.25,154.49 247.00,155.24 247.75,155.98 248.50,156.53 249.25,157.04 250.00,157.54 250.75,158.05 251.50,160.05 252.25,160.28 253.00,158.45 253.75,158.13 254.50,157.80 255.25,157.47 256.00,157.14 256.75,157.20 257.50,157.38 258.25,157.57 259.00,159.87 259.75,160.84 260.50,161.80 261.25,162.76 262.00,163.65 262.75,163.99 263.50,164.34 264.25,164.69 265.00,165.04 265.75,165.38 266.50,165.73 267.25,166.08 268.00,166.42 268.75,166.76 269.50,166.99 270.25,167.22 271.00,167.44 271.75,167.67 272.50,167.89 273.25,168.12 274.00,168.35 274.75,168.66 275.50,168.98 276.25,169.28 277.00,169.58 277.75,169.88 278.50,170.19 279.25,170.52 280.00,170.84 280.75,171.17 281.50,171.50 282.25,171.83 283.00,172.15 283.75,172.45 284.50,172.75 285.25,173.05 286.00,173.35 286.75,173.65 287.50,173.95 288.25,174.25 289.00,174.55 289.75,174.85 290.50,175.14 291.25,175.44 292.00,175.73 292.75,176.03 293.50,176.32 294.25,176.61 295.00,176.91 295.75,177.20 296.50,177.50 297.25,177.81 298.00,178.11 298.75,178.42 299.50,178.72 300.25,179.05 301.00,179.40 301.75,179.76 302.50,180.12 303.25,180.42 304.00,180.46 304.75,180.50 305.50,180.54 306.25,180.58 307.00,180.62 307.75,180.66 308.50,180.71 309.25,180.75 310.00,180.79 310.75,180.85 311.50,181.07 312.25,181.73 313.00,182.38 313.75,183.04 314.50,183.69 315.25,184.35 316.00,185.00 316.75,185.66 317.50,186.19 318.25,186.71 319.00,187.23 319.75,187.75 320.50,188.27 321.25,188.80 322.00,189.32 322.75,189.84 323.50,190.36 324.25,190.83 325.00,191.28 325.75,191.74 326.50,192.19 327.25,192.64 328.00,193.09 328.75,193.54 329.50,194.00 330.25,194.45 331.00,194.95 331.75,195.47 332.50,195.99 333.25,196.51 334.00,197.03 334.75,197.56 335.50,198.08 336.25,198.60 337.00,199.12 337.75,199.51 338.50,199.73 339.25,199.96 340.00,200.19 340.75,200.42 341.50,200.65 342.25,200.88 343.00,201.10 343.75,201.33 344.50,201.60 345.25,201.97 346.00,202.33 346.75,202.69 347.50,203.05 348.25,203.41 349.00,203.77 349.75,204.13 350.50,204.49 351.25,204.83 352.00,204.96 352.75,205.09 353.50,205.22 354.25,205.35 355.00,205.48 355.75,205.76 356.50,206.05 357.25,206.33 358.00,206.62 358.75,206.90 359.50,207.19 360.25,207.47 361.00,207.76 361.75,208.04 362.50,208.33 363.25,208.61 364.00,208.90 364.75,209.18 365.50,209.47 366.25,209.75 367.00,210.04 367.75,210.22 368.50,210.40 369.25,210.58 370.00,210.76 370.75,210.94 371.50,211.12 372.25,211.30 373.00,211.48 373.75,211.66 374.50,211.84 375.25,212.02 376.00,212.19 376.75,212.37 377.50,212.55 378.25,212.73 379.00,212.91 379.75,213.09 380.50,213.33 381.25,213.61 382.00,213.88 382.75,214.16 383.50,214.43 384.25,214.71 385.00,214.98 385.75,215.26 386.50,215.54 387.25,215.81 388.00,216.09 388.75,216.36 389.50,216.64 390.25,216.91 391.00,217.20 391.75,217.48 392.50,217.77 393.25,218.05 394.00,218.34 394.75,218.56 395.50,218.72 396.25,218.88 397.00,219.03 397.75,219.19 398.50,219.35 399.25,219.50 400.00,219.66 400.75,219.81 401.50,219.97 402.25,220.13 403.00,220.28 403.75,220.44 404.50,220.60 405.25,220.75 406.00,220.91 406.75,221.07 407.50,221.23 408.25,221.40 409.00,221.57 409.75,221.74 410.50,221.91 411.25,222.08 412.00,222.25 412.75,222.42 413.50,222.59 414.25,222.76 415.00,222.93 415.75,223.10 416.50,223.27 417.25,223.44 418.00,223.61 418.75,223.78 419.50,223.95 420.25,224.12 421.00,224.29 421.75,224.47 422.50,224.67 423.25,224.87 424.00,225.08 424.75,225.28 425.50,225.48 426.25,225.69 427.00,225.89 427.75,226.09 428.50,226.30 429.25,226.50 430.00,226.70 430.75,226.91 431.50,227.11 432.25,227.31 433.00,227.52 433.75,227.72 434.50,227.92 435.25,228.05 436.00,228.19 436.75,228.33 437.50,228.47 438.25,228.61 439.00,228.75 439.75,228.89 440.50,229.03 441.25,229.17 442.00,229.31 442.75,229.44 443.50,229.58 444.25,229.72 445.00,229.86 445.75,230.00 446.50,230.14 447.25,230.28 448.00,230.42 448.75,230.56 449.50,230.67 450.25,230.78 451.00,230.89 451.75,231.00 452.50,231.11 453.25,231.22 454.00,231.33 454.75,231.44 455.50,231.55 456.25,231.66 457.00,231.77 457.75,231.88 458.50,231.99 459.25,232.10 460.00,232.21 460.75,232.32 461.50,232.44 462.25,232.43 463.00,232.43 463.75,232.43 464.50,232.43 465.25,232.43 466.00,232.42 466.75,232.42 467.50,232.37 468.25,232.29 469.00,232.22 469.75,232.14 470.50,232.06 471.25,231.99 472.00,231.91 472.75,231.83 473.50,231.83 474.25,231.86 475.00,231.89 475.75,231.92 476.50,231.95 477.25,231.98 478.00,232.01 478.75,232.04 479.50,232.07 480.25,232.07 481.00,231.99 481.75,231.91 482.50,231.84 483.25,231.76 484.00,231.68 484.75,231.61 485.50,231.53 486.25,231.45 487.00,231.38 487.75,231.30 488.50,231.03 489.25,230.66 490.00,230.30 490.75,229.93 491.50,229.57 492.25,229.20 493.00,228.83 493.75,228.47 494.50,228.10 495.25,227.80 496.00,227.64 496.75,227.47 497.50,227.31 498.25,227.14 499.00,226.98 499.75,226.81 500.50,226.60 501.25,226.39 502.00,226.19 502.75,225.98 503.50,225.77 504.25,225.57 505.00,225.36 505.75,225.16 506.50,224.95 507.25,224.74 508.00,224.54 508.75,224.33 509.50,224.12 510.25,223.92 511.00,223.96 511.75,224.21 512.50,224.47 513.25,224.72 514.00,224.97 514.75,225.18 515.50,224.72 516.25,224.27 517.00,223.81 517.75,223.35 518.50,222.89 519.25,222.43 520.00,221.97 520.75,221.51 521.50,221.05 522.25,220.58 523.00,220.11 523.75,219.63 524.50,219.16 525.25,218.68 526.00,216.68 526.75,216.18 527.50,215.68 528.25,215.18 529.00,214.68 529.75,214.05 530.50,213.40 531.25,212.75 532.00,212.10 532.75,211.46 533.50,211.03 534.25,210.94 535.00,210.85 535.75,210.76 536.50,210.68 537.25,210.59 538.00,210.50 538.75,210.37 539.50,209.77 540.25,209.16 541.00,208.56 541.75,207.96 542.50,206.99 543.25,205.47 544.00,203.94 544.75,202.41 545.50,201.83 546.25,201.50 547.00,201.16 547.75,200.82 548.50,200.48 549.25,200.14 550.00,199.80 550.75,199.60 551.50,199.57 552.25,199.54 553.00,199.51 553.75,199.48 554.50,199.45 555.25,199.25 556.00,196.74 556.75,194.22 557.50,191.70 558.25,190.00 559.00,189.94 559.75,189.87 560.50,189.81 561.25,189.75 562.00,189.68 562.75,189.62 563.50,189.55 564.25,189.49 565.00,189.42 565.75,189.36 566.50,189.29 567.25,189.23 568.00,189.17 568.75,187.78 569.50,185.51 570.25,183.23 571.00,180.96 571.75,178.83 572.50,178.60 573.25,178.37 574.00,178.14 574.75,177.91 575.50,177.67 576.25,177.44 577.00,177.21 577.75,177.11 578.50,177.05 579.25,176.98 580.00,176.92 580.75,176.86 581.50,176.80 582.25,176.20 583.00,174.52 583.75,172.85 584.50,171.17 585.25,169.50 586.00,169.05 586.75,168.91 587.50,168.77 588.25,168.63 589.00,168.49 589.75,168.35 590.50,168.21 591.25,168.07 592.00,167.93 592.75,167.64 593.50,167.26 594.25,166.88 595.00,166.49 595.75,166.11 596.50,165.46 597.25,163.11 598.00,160.75 598.75,158.40 599.50,156.04 600.25,154.89 601.00,155.11 601.75,155.33 602.50,155.55 603.25,155.76 604.00,155.98 604.75,156.23 605.50,156.76 606.25,157.29 607.00,157.82 607.75,158.35 608.50,158.89 609.25,159.42 610.00,157.62 610.75,154.64 611.50,151.67 612.25,148.92 613.00,149.24 613.75,149.55 614.50,149.87 615.25,150.18 616.00,150.50 616.75,150.81 617.50,151.13 618.25,151.44 619.00,151.68 619.75,151.89 620.50,152.10 621.25,152.32 622.00,152.53 622.75,152.75 623.50,151.12 624.25,149.37 625.00,147.61 625.75,145.86 626.50,145.53 627.25,145.60 628.00,145.67 628.75,145.74 629.50,145.81 630.25,145.89 631.00,146.18 631.75,146.52 632.50,146.86 633.25,147.21 634.00,147.55 634.75,147.90 635.50,148.24 636.25,148.59 637.00,146.74 637.75,143.81 638.50,140.87 639.25,137.94 640.00,135.85 640.75,136.45 641.50,136.22 642.25,136.32 643.00,137.08 643.75,137.84 644.50,138.60 645.25,139.36 646.00,139.91 646.75,140.36 647.50,140.82 648.25,141.27 649.00,141.72 649.75,142.18 650.50,141.66 651.25,138.47 652.00,135.28 652.75,131.92 653.50,130.61 654.25,130.93 655.00,131.25 655.75,131.56 656.50,131.88 657.25,132.20 658.00,132.41 658.75,132.32 659.50,132.23 660.25,132.14 661.00,132.06 661.75,131.97 662.50,131.88 663.25,131.79 664.00,129.74 664.75,127.55 665.50,125.36 666.25,124.41 667.00,124.97 667.75,125.27 668.50,125.58 669.25,125.64 670.00,125.54 670.75,125.44 671.50,125.34 672.25,125.24 673.00,125.14 673.75,125.04 674.50,124.94 675.25,124.85 676.00,124.75 676.75,124.65 677.50,124.16 678.25,123.32 679.00,122.49 679.75,120.81 680.50,119.99 681.25,120.07 682.00,120.15 682.75,120.23 683.50,120.31 684.25,120.29 685.00,120.15 685.75,120.02 686.50,119.88 687.25,119.75 688.00,119.61 688.75,119.48 689.50,119.37 690.25,119.45 691.00,119.52 691.75,119.60 692.50,119.67 693.25,119.49 694.00,119.02 694.75,118.55 695.50,118.08 696.25,117.62 697.00,117.15 697.75,117.38 698.50,117.61 699.25,117.84 700.00,118.07 700.75,118.18 701.50,118.16 702.25,118.14 703.00,118.12 703.75,118.11 704.50,118.09 705.25,118.07 706.00,118.05 706.75,118.03 707.50,117.86 708.25,117.25 709.00,116.65 709.75,116.04 710.50,115.44 711.25,114.84 712.00,114.94 712.75,115.21 713.50,115.49 714.25,115.73 715.00,115.46 715.75,115.19 716.00,115.10 716.00,394.0 67.00,394.0" fill="#fcb808"/>
<polygon points="67.00,233.27 67.75,232.96 68.50,232.66 69.25,232.35 70.00,232.39 70.75,232.42 71.50,232.46 72.25,232.26 73.00,232.07 73.75,231.87 74.50,231.80 75.25,231.74 76.00,231.67 76.75,231.64 77.50,231.62 78.25,231.59 79.00,231.60 79.75,231.60 80.50,231.61 81.25,231.44 82.00,231.27 82.75,231.11 83.50,231.04 84.25,230.84 85.00,230.65 85.75,229.95 86.50,229.24 87.25,228.54 88.00,228.15 88.75,227.75 89.50,227.36 90.25,226.81 91.00,226.22 91.75,225.62 92.50,225.05 93.25,224.48 94.00,223.91 94.75,223.40 95.50,222.89 96.25,222.38 97.00,222.08 97.75,221.90 98.50,221.71 99.25,221.00 100.00,220.28 100.75,219.57 101.50,219.38 102.25,219.19 103.00,219.00 103.75,218.48 104.50,217.84 105.25,217.21 106.00,216.82 106.75,216.43 107.50,216.05 108.25,215.38 109.00,214.70 109.75,214.03 110.50,213.69 111.25,213.95 112.00,214.29 112.75,214.24 113.50,214.19 114.25,214.03 115.00,213.90 115.75,213.77 116.50,213.65 117.25,213.68 118.00,213.71 118.75,213.75 119.50,213.36 120.25,212.97 121.00,212.54 121.75,212.28 122.50,212.02 123.25,211.77 124.00,211.86 124.75,211.95 125.50,212.05 126.25,211.45 127.00,210.86 127.75,209.93 128.50,209.58 129.25,209.23 130.00,208.88 130.75,208.33 131.50,207.78 132.25,207.23 133.00,206.44 133.75,205.64 134.50,204.74 135.25,204.15 136.00,203.55 136.75,202.96 137.50,201.93 138.25,200.91 139.00,199.89 139.75,199.40 140.50,199.13 141.25,198.86 142.00,198.38 142.75,197.90 143.50,197.42 144.25,197.08 145.00,196.74 145.75,196.40 146.50,195.86 147.25,195.32 148.00,194.78 148.75,194.58 149.50,194.38 150.25,194.18 151.00,193.78 151.75,193.38 152.50,192.98 153.25,192.46 154.00,191.94 154.75,191.42 155.50,190.92 156.25,190.42 157.00,189.92 157.75,189.49 158.50,189.06 159.25,188.63 160.00,188.15 160.75,187.68 161.50,187.21 162.25,186.69 163.00,186.16 163.75,185.64 164.50,185.04 165.25,184.36 166.00,183.68 166.75,182.90 167.50,182.11 168.25,181.32 169.00,180.81 169.75,180.29 170.50,179.77 171.25,179.18 172.00,178.58 172.75,177.98 173.50,177.32 174.25,176.66 175.00,175.99 175.75,175.28 176.50,174.28 177.25,173.26 178.00,172.40 178.75,171.55 179.50,170.70 180.25,169.76 181.00,169.23 181.75,168.69 182.50,168.28 183.25,167.87 184.00,167.45 184.75,167.12 185.50,166.64 186.25,166.09 187.00,165.49 187.75,164.89 188.50,164.29 189.25,163.47 190.00,162.64 190.75,161.79 191.50,161.21 192.25,160.62 193.00,160.03 193.75,160.31 194.50,160.58 195.25,160.86 196.00,161.32 196.75,161.50 197.50,161.36 198.25,160.95 199.00,160.55 199.75,160.15 200.50,159.90 201.25,159.66 202.00,159.69 202.75,159.47 203.50,159.26 204.25,159.04 205.00,158.88 205.75,158.72 206.50,158.55 207.25,158.39 208.00,158.23 208.75,158.06 209.50,158.08 210.25,158.10 211.00,158.11 211.75,158.12 212.50,158.13 213.25,158.14 214.00,157.91 214.75,157.67 215.50,157.59 216.25,157.67 217.00,157.75 217.75,157.83 218.50,158.16 219.25,158.49 220.00,158.82 220.75,158.72 221.50,158.45 222.25,158.19 223.00,158.24 223.75,158.30 224.50,158.36 225.25,158.26 226.00,158.19 226.75,158.11 227.50,157.97 228.25,157.83 229.00,157.68 229.75,157.84 230.50,157.99 231.25,158.15 232.00,158.23 232.75,158.31 233.50,158.39 234.25,158.16 235.00,157.93 235.75,157.70 236.50,157.75 237.25,157.79 238.00,157.84 238.75,157.80 239.50,157.75 240.25,157.70 241.00,157.67 241.75,157.64 242.50,157.62 243.25,157.39 244.00,157.16 244.75,156.93 245.50,157.35 246.25,157.77 247.00,158.19 247.75,158.09 248.50,157.99 249.25,157.89 250.00,158.09 250.75,158.28 251.50,158.55 252.25,158.78 253.00,158.55 253.75,158.60 254.50,158.40 255.25,158.20 256.00,157.99 256.75,158.12 257.50,159.69 258.25,159.48 259.00,159.87 259.75,160.84 260.50,161.80 261.25,162.76 262.00,163.65 262.75,163.99 263.50,164.34 264.25,164.69 265.00,165.04 265.75,165.38 266.50,165.73 267.25,166.08 268.00,166.42 268.75,166.76 269.50,166.99 270.25,167.22 271.00,167.44 271.75,167.67 272.50,167.89 273.25,168.12 274.00,168.35 274.75,168.66 275.50,168.98 276.25,169.28 277.00,169.58 277.75,169.88 278.50,170.19 279.25,170.52 280.00,170.84 280.75,171.17 281.50,171.50 282.25,171.83 283.00,172.15 283.75,172.45 284.50,172.75 285.25,173.05 286.00,173.35 286.75,173.65 287.50,173.95 288.25,174.25 289.00,174.55 289.75,174.85 290.50,175.14 291.25,175.44 292.00,175.73 292.75,176.03 293.50,176.32 294.25,176.61 295.00,176.91 295.75,177.20 296.50,177.50 297.25,177.81 298.00,178.11 298.75,178.42 299.50,178.72 300.25,179.05 301.00,179.40 301.75,179.76 302.50,180.12 303.25,180.42 304.00,180.46 304.75,180.50 305.50,180.54 306.25,180.58 307.00,180.62 307.75,180.66 308.50,180.71 309.25,180.75 310.00,180.79 310.75,180.85 311.50,181.07 312.25,181.73 313.00,182.38 313.75,183.04 314.50,183.69 315.25,184.35 316.00,185.00 316.75,185.66 317.50,186.19 318.25,186.71 319.00,187.23 319.75,187.75 320.50,188.27 321.25,188.80 322.00,189.32 322.75,189.84 323.50,190.36 324.25,190.83 325.00,191.28 325.75,191.74 326.50,192.19 327.25,192.64 328.00,193.09 328.75,193.54 329.50,194.00 330.25,194.45 331.00,194.95 331.75,195.47 332.50,195.99 333.25,196.51 334.00,197.03 334.75,197.56 335.50,198.08 336.25,198.60 337.00,199.12 337.75,199.51 338.50,199.73 339.25,199.96 340.00,200.19 340.75,200.42 341.50,200.65 342.25,200.88 343.00,201.10 343.75,201.33 344.50,201.60 345.25,201.97 346.00,202.33 346.75,202.69 347.50,203.05 348.25,203.41 349.00,203.77 349.75,204.13 350.50,204.49 351.25,204.83 352.00,204.96 352.75,205.09 353.50,205.22 354.25,205.35 355.00,205.48 355.75,205.76 356.50,206.05 357.25,206.33 358.00,206.62 358.75,206.90 359.50,207.19 360.25,207.47 361.00,207.76 361.75,208.04 362.50,208.33 363.25,208.61 364.00,208.90 364.75,209.18 365.50,209.47 366.25,209.75 367.00,210.04 367.75,210.22 368.50,210.40 369.25,210.58 370.00,210.76 370.75,210.94 371.50,211.12 372.25,211.30 373.00,211.48 373.75,211.66 374.50,211.84 375.25,212.02 376.00,212.19 376.75,212.37 377.50,212.55 378.25,212.73 379.00,212.91 379.75,213.09 380.50,213.33 381.25,213.61 382.00,213.88 382.75,214.16 383.50,214.43 384.25,214.71 385.00,214.98 385.75,215.26 386.50,215.54 387.25,215.81 388.00,216.09 388.75,216.36 389.50,216.64 390.25,216.91 391.00,217.20 391.75,217.48 392.50,217.77 393.25,218.05 394.00,218.34 394.75,218.56 395.50,218.72 396.25,218.88 397.00,219.03 397.75,219.19 398.50,219.35 399.25,219.50 400.00,219.66 400.75,219.81 401.50,219.97 402.25,220.13 403.00,220.28 403.75,220.44 404.50,220.60 405.25,220.75 406.00,220.91 406.75,221.07 407.50,221.23 408.25,221.40 409.00,221.57 409.75,221.74 410.50,221.91 411.25,222.08 412.00,222.25 412.75,222.42 413.50,222.59 414.25,222.76 415.00,222.93 415.75,223.10 416.50,223.27 417.25,223.44 418.00,223.61 418.75,223.78 419.50,223.95 420.25,224.12 421.00,224.29 421.75,224.47 422.50,224.67 423.25,224.87 424.00,225.08 424.75,225.28 425.50,225.48 426.25,225.69 427.00,225.89 427.75,226.09 428.50,226.30 429.25,226.50 430.00,226.70 430.75,226.91 431.50,227.11 432.25,227.31 433.00,227.52 433.75,227.72 434.50,227.92 435.25,228.05 436.00,228.19 436.75,228.33 437.50,228.47 438.25,228.61 439.00,228.75 439.75,228.89 440.50,229.03 441.25,229.17 442.00,229.31 442.75,229.44 443.50,229.58 444.25,229.72 445.00,229.86 445.75,230.00 446.50,230.14 447.25,230.28 448.00,230.42 448.75,230.56 449.50,230.67 450.25,230.78 451.00,230.89 451.75,231.00 452.50,231.11 453.25,231.22 454.00,231.33 454.75,231.44 455.50,231.55 456.25,231.66 457.00,231.77 457.75,231.88 458.50,231.99 459.25,232.10 460.00,232.21 460.75,232.32 461.50,232.44 462.25,232.43 463.00,232.43 463.75,232.43 464.50,232.43 465.25,232.43 466.00,232.42 466.75,232.42 467.50,232.37 468.25,232.29 469.00,232.22 469.75,232.14 470.50,232.06 471.25,231.99 472.00,231.91 472.75,231.83 473.50,231.83 474.25,231.86 475.00,231.89 475.75,231.92 476.50,231.95 477.25,231.98 478.00,232.01 478.75,232.04 479.50,232.07 480.25,232.07 481.00,231.99 481.75,231.91 482.50,231.84 483.25,231.76 484.00,231.68 484.75,231.61 485.50,231.53 486.25,231.45 487.00,231.38 487.75,231.30 488.50,231.03 489.25,230.66 490.00,230.30 490.75,229.93 491.50,229.57 492.25,229.20 493.00,228.83 493.75,228.47 494.50,228.10 495.25,227.80 496.00,227.64 496.75,227.47 497.50,227.31 498.25,227.14 499.00,226.98 499.75,226.81 500.50,226.60 501.25,226.39 502.00,226.19 502.75,225.98 503.50,225.77 504.25,225.57 505.00,225.36 505.75,225.16 506.50,224.95 507.25,224.74 508.00,224.54 508.75,224.33 509.50,224.12 510.25,223.92 511.00,223.96 511.75,224.21 512.50,224.47 513.25,224.72 514.00,224.97 514.75,225.18 515.50,224.72 516.25,224.27 517.00,223.81 517.75,223.35 518.50,222.89 519.25,222.43 520.00,221.97 520.75,221.51 521.50,221.05 522.25,220.58 523.00,220.11 523.75,219.63 524.50,219.16 525.25,218.68 526.00,218.58 526.75,218.87 527.50,219.16 528.25,219.45 529.00,219.01 529.75,218.56 530.50,218.21 531.25,218.57 532.00,218.93 532.75,219.28 533.50,216.32 534.25,215.89 535.00,215.45 535.75,215.33 536.50,215.20 537.25,215.08 538.00,214.69 538.75,214.38 539.50,214.07 540.25,213.80 541.00,213.54 541.75,213.27 542.50,213.11 543.25,212.93 544.00,212.76 544.75,212.34 545.50,211.93 546.25,211.51 547.00,211.41 547.75,211.30 548.50,211.19 549.25,210.91 550.00,210.77 550.75,210.64 551.50,210.71 552.25,210.78 553.00,210.85 553.75,210.78 554.50,210.71 555.25,210.64 556.00,210.62 556.75,210.71 557.50,210.80 558.25,211.03 559.00,211.27 559.75,211.50 560.50,211.45 561.25,211.39 562.00,211.34 562.75,211.34 563.50,211.33 564.25,211.31 565.00,211.09 565.75,210.87 566.50,210.64 567.25,210.47 568.00,210.30 568.75,210.13 569.50,210.00 570.25,209.84 571.00,209.67 571.75,209.46 572.50,209.26 573.25,209.05 574.00,208.91 574.75,208.77 575.50,208.72 576.25,208.62 577.00,208.51 577.75,208.40 578.50,208.50 579.25,208.61 580.00,208.71 580.75,208.85 581.50,208.99 582.25,209.12 583.00,208.92 583.75,208.75 584.50,208.60 585.25,208.71 586.00,208.81 586.75,208.91 587.50,208.96 588.25,209.01 589.00,209.06 589.75,209.17 590.50,209.11 591.25,208.97 592.00,209.01 592.75,209.05 593.50,209.09 594.25,208.94 595.00,208.78 595.75,208.63 596.50,208.47 597.25,208.46 598.00,208.45 598.75,208.20 599.50,207.94 600.25,207.69 601.00,207.80 601.75,207.92 602.50,208.41 603.25,208.89 604.00,209.38 604.75,209.86 605.50,210.40 606.25,210.93 607.00,211.47 607.75,211.68 608.50,211.84 609.25,212.01 610.00,212.54 610.75,213.08 611.50,213.61 612.25,213.86 613.00,214.11 613.75,214.36 614.50,214.85 615.25,215.24 616.00,215.63 616.75,215.75 617.50,215.88 618.25,216.00 619.00,216.51 619.75,217.01 620.50,217.52 621.25,217.61 622.00,217.70 622.75,217.79 623.50,217.90 624.25,218.02 625.00,218.13 625.75,218.34 626.50,218.56 627.25,218.77 628.00,219.24 628.75,219.70 629.50,220.17 630.25,220.32 631.00,220.48 631.75,220.64 632.50,221.05 633.25,221.47 634.00,221.88 634.75,221.83 635.50,221.77 636.25,221.72 637.00,221.99 637.75,222.30 638.50,222.60 639.25,223.16 640.00,223.72 640.75,224.28 641.50,224.50 642.25,224.73 643.00,224.95 643.75,225.24 644.50,225.53 645.25,225.82 646.00,226.23 646.75,226.64 647.50,227.05 648.25,227.41 649.00,227.76 649.75,228.12 650.50,228.48 651.25,228.66 652.00,228.83 652.75,228.83 653.50,228.83 654.25,228.82 655.00,228.76 655.75,228.71 656.50,228.65 657.25,228.89 658.00,229.13 658.75,229.37 659.50,229.41 660.25,229.45 661.00,229.49 661.75,229.72 662.50,229.95 663.25,230.17 664.00,230.16 664.75,230.03 665.50,229.91 666.25,229.70 667.00,229.49 667.75,229.28 668.50,229.54 669.25,229.81 670.00,230.07 670.75,230.06 671.50,230.05 672.25,230.04 673.00,230.14 673.75,230.25 674.50,230.35 675.25,230.29 676.00,230.22 676.75,230.15 677.50,230.05 678.25,229.94 679.00,229.83 679.75,229.56 680.50,229.29 681.25,229.01 682.00,229.45 682.75,229.90 683.50,230.34 684.25,230.28 685.00,230.22 685.75,230.17 686.50,229.96 687.25,229.76 688.00,229.55 688.75,229.48 689.50,229.40 690.25,229.33 691.00,229.17 691.75,229.01 692.50,228.85 693.25,229.13 694.00,229.42 694.75,229.70 695.50,229.47 696.25,229.23 697.00,229.00 697.75,228.93 698.50,228.86 699.25,228.80 700.00,228.69 700.75,228.59 701.50,228.48 702.25,228.78 703.00,229.08 703.75,229.39 704.50,229.21 705.25,228.99 706.00,228.78 706.75,228.61 707.50,228.44 708.25,228.27 709.00,228.02 709.75,227.77 710.50,227.52 711.25,227.41 712.00,227.30 712.75,227.19 713.50,226.99 714.25,226.78 715.00,226.57 715.75,226.64 716.00,226.67 716.00,394.0 67.00,394.0" fill="#f80505"/>
<polygon points="67.00,294.87 67.75,294.36 68.50,293.85 69.25,293.35 70.00,293.63 70.75,293.90 71.50,294.18 72.25,293.86 73.00,293.53 73.75,293.21 74.50,293.13 75.25,293.05 76.00,292.97 76.75,293.11 77.50,293.25 78.25,293.39 79.00,293.32 79.75,293.25 80.50,293.19 81.25,292.99 82.00,292.79 82.75,292.59 83.50,292.68 84.25,292.56 85.00,292.44 85.75,291.11 86.50,289.77 87.25,288.44 88.00,287.94 88.75,287.45 89.50,286.96 90.25,286.14 91.00,285.33 91.75,284.51 92.50,283.85 93.25,283.18 94.00,282.52 94.75,281.94 95.50,281.43 96.25,280.96 97.00,280.57 97.75,280.19 98.50,279.80 99.25,278.93 100.00,278.24 100.75,277.56 101.50,277.71 102.25,277.86 103.00,278.01 103.75,277.59 104.50,277.17 105.25,276.75 106.00,276.74 106.75,276.74 107.50,276.46 108.25,275.49 109.00,274.53 109.75,273.57 110.50,273.32 111.25,273.07 112.00,272.83 112.75,272.76 113.50,272.69 114.25,272.63 115.00,273.14 115.75,273.02 116.50,272.90 117.25,272.75 118.00,272.60 118.75,272.45 119.50,271.52 120.25,270.57 121.00,269.57 121.75,269.13 122.50,268.70 123.25,268.26 124.00,268.52 124.75,268.78 125.50,268.84 126.25,267.17 127.00,265.50 127.75,263.84 128.50,263.54 129.25,263.25 130.00,262.95 130.75,262.48 131.50,262.00 132.25,261.53 133.00,260.48 133.75,259.44 134.50,258.40 135.25,257.99 136.00,257.77 136.75,257.55 137.50,256.43 138.25,255.32 139.00,254.20 139.75,253.60 140.50,253.26 141.25,253.04 142.00,251.89 142.75,250.74 143.50,249.59 144.25,249.21 145.00,248.83 145.75,248.52 146.50,247.45 147.25,246.39 148.00,245.32 148.75,245.19 149.50,245.06 150.25,244.87 151.00,244.15 151.75,243.43 152.50,242.71 153.25,241.57 154.00,240.67 154.75,239.76 155.50,239.35 156.25,238.95 157.00,238.55 157.75,238.06 158.50,237.58 159.25,237.10 160.00,236.40 160.75,235.70 161.50,235.00 162.25,234.25 163.00,233.50 163.75,232.27 164.50,231.36 165.25,230.45 166.00,229.55 166.75,228.48 167.50,227.41 168.25,226.35 169.00,225.59 169.75,224.83 170.50,224.30 171.25,223.89 172.00,223.48 172.75,223.08 173.50,222.35 174.25,221.63 175.00,220.90 175.75,220.57 176.50,220.25 177.25,219.92 178.00,219.66 178.75,219.52 179.50,219.38 180.25,218.74 181.00,218.10 181.75,216.99 182.50,216.17 183.25,215.34 184.00,214.52 184.75,213.60 185.50,212.75 186.25,211.92 187.00,211.09 187.75,210.25 188.50,209.42 189.25,208.05 190.00,206.01 190.75,203.96 191.50,202.26 192.25,201.07 193.00,200.92 193.75,200.87 194.50,200.82 195.25,200.77 196.00,200.78 196.75,200.04 197.50,199.30 198.25,198.50 199.00,197.69 199.75,196.88 200.50,196.16 201.25,195.51 202.00,194.86 202.75,193.95 203.50,193.05 204.25,192.14 205.00,191.10 205.75,190.21 206.50,189.31 207.25,188.59 208.00,187.88 208.75,187.16 209.50,186.96 210.25,186.71 211.00,186.36 211.75,185.52 212.50,184.69 213.25,183.86 214.00,182.71 214.75,181.57 215.50,180.75 216.25,180.67 217.00,180.58 217.75,180.50 218.50,180.46 219.25,180.41 220.00,180.37 220.75,179.96 221.50,179.04 222.25,177.87 223.00,177.47 223.75,177.06 224.50,176.91 225.25,176.07 226.00,175.22 226.75,174.37 227.50,173.65 228.25,172.93 229.00,172.21 229.75,171.73 230.50,171.26 231.25,170.80 232.00,170.32 232.75,169.83 233.50,169.35 234.25,168.54 235.00,167.73 235.75,167.22 236.50,166.94 237.25,166.65 238.00,166.37 238.75,165.83 239.50,165.29 240.25,164.65 241.00,164.14 241.75,163.64 242.50,163.18 243.25,162.35 244.00,161.51 244.75,160.68 245.50,161.27 246.25,161.85 247.00,162.44 247.75,161.71 248.50,160.98 249.25,160.25 250.00,160.38 250.75,160.51 251.50,160.64 252.25,160.43 253.00,160.21 253.75,160.00 254.50,159.54 255.25,159.08 256.00,158.62 256.75,158.40 257.50,158.19 258.25,157.98 259.00,158.37 259.75,159.34 260.50,160.30 261.25,161.26 262.00,162.15 262.75,162.49 263.50,162.84 264.25,163.19 265.00,163.54 265.75,163.88 266.50,164.23 267.25,164.58 268.00,164.92 268.75,165.26 269.50,165.49 270.25,165.72 271.00,165.94 271.75,166.17 272.50,166.39 273.25,166.62 274.00,166.85 274.75,167.16 275.50,167.48 276.25,167.78 277.00,168.08 277.75,168.38 278.50,168.69 279.25,169.02 280.00,169.34 280.75,169.67 281.50,170.00 282.25,170.33 283.00,170.65 283.75,170.95 284.50,171.25 285.25,171.55 286.00,171.85 286.75,172.15 287.50,172.45 288.25,172.75 289.00,173.05 289.75,173.35 290.50,173.64 291.25,173.94 292.00,174.23 292.75,174.53 293.50,174.82 294.25,175.11 295.00,175.41 295.75,175.70 296.50,176.00 297.25,176.31 298.00,176.61 298.75,176.92 299.50,177.22 300.25,177.55 301.00,177.90 301.75,178.26 302.50,178.62 303.25,178.92 304.00,178.96 304.75,179.00 305.50,179.04 306.25,179.08 307.00,179.12 307.75,179.16 308.50,179.21 309.25,179.25 310.00,179.29 310.75,179.35 311.50,179.57 312.25,180.23 313.00,180.88 313.75,181.54 314.50,182.19 315.25,182.85 316.00,183.50 316.75,184.16 317.50,184.69 318.25,185.21 319.00,185.73 319.75,186.25 320.50,186.77 321.25,187.30 322.00,187.82 322.75,188.34 323.50,188.86 324.25,189.33 325.00,189.78 325.75,190.24 326.50,190.69 327.25,191.14 328.00,191.59 328.75,192.04 329.50,192.50 330.25,192.95 331.00,193.45 331.75,193.97 332.50,194.49 333.25,195.01 334.00,195.53 334.75,196.06 335.50,196.58 336.25,197.10 337.00,197.62 337.75,198.01 338.50,198.23 339.25,198.46 340.00,198.69 340.75,198.92 341.50,199.15 342.25,199.38 343.00,199.60 343.75,199.83 344.50,200.10 345.25,200.47 346.00,200.83 346.75,201.19 347.50,201.55 348.25,201.91 349.00,202.27 349.75,202.63 350.50,202.99 351.25,203.33 352.00,203.46 352.75,203.59 353.50,203.72 354.25,203.85 355.00,203.98 355.75,204.26 356.50,204.55 357.25,204.83 358.00,205.12 358.75,205.40 359.50,205.69 360.25,205.97 361.00,206.26 361.75,206.54 362.50,206.83 363.25,207.11 364.00,207.40 364.75,207.68 365.50,207.97 366.25,208.25 367.00,208.54 367.75,208.72 368.50,208.90 369.25,209.08 370.00,209.26 370.75,209.44 371.50,209.62 372.25,209.80 373.00,209.98 373.75,210.16 374.50,210.34 375.25,210.52 376.00,210.69 376.75,210.87 377.50,211.05 378.25,211.23 379.00,211.41 379.75,211.59 380.50,211.83 381.25,212.11 382.00,212.38 382.75,212.66 383.50,212.93 384.25,213.21 385.00,213.48 385.75,213.76 386.50,214.04 387.25,214.31 388.00,214.59 388.75,214.86 389.50,215.14 390.25,215.41 391.00,215.70 391.75,215.98 392.50,216.27 393.25,216.55 394.00,216.84 394.75,217.06 395.50,217.22 396.25,217.38 397.00,217.53 397.75,217.69 398.50,217.85 399.25,218.00 400.00,218.16 400.75,218.31 401.50,218.47 402.25,218.63 403.00,218.78 403.75,218.94 404.50,219.10 405.25,219.25 406.00,219.41 406.75,219.57 407.50,219.73 408.25,219.90 409.00,220.07 409.75,220.24 410.50,220.41 411.25,220.58 412.00,220.75 412.75,220.92 413.50,221.09 414.25,221.26 415.00,221.43 415.75,221.60 416.50,221.77 417.25,221.94 418.00,222.11 418.75,222.28 419.50,222.45 420.25,222.62 421.00,222.79 421.75,222.97 422.50,223.17 423.25,223.37 424.00,223.58 424.75,223.78 425.50,223.98 426.25,224.19 427.00,224.39 427.75,224.59 428.50,224.80 429.25,225.00 430.00,225.20 430.75,225.41 431.50,225.61 432.25,225.81 433.00,226.02 433.75,226.22 434.50,226.42 435.25,226.55 436.00,226.69 436.75,226.83 437.50,226.97 438.25,227.11 439.00,227.25 439.75,227.39 440.50,227.53 441.25,227.67 442.00,227.81 442.75,227.94 443.50,228.08 444.25,228.22 445.00,228.36 445.75,228.50 446.50,228.64 447.25,228.78 448.00,228.92 448.75,229.06 449.50,229.17 450.25,229.28 451.00,229.39 451.75,229.50 452.50,229.61 453.25,229.72 454.00,229.83 454.75,229.94 455.50,230.05 456.25,230.16 457.00,230.27 457.75,230.38 458.50,230.49 459.25,230.60 460.00,230.71 460.75,230.82 461.50,230.94 462.25,230.93 463.00,230.93 463.75,230.93 464.50,230.93 465.25,230.93 466.00,230.92 466.75,230.92 467.50,230.87 468.25,230.79 469.00,230.72 469.75,230.64 470.50,230.56 471.25,230.49 472.00,230.41 472.75,230.33 473.50,230.33 474.25,230.36 475.00,230.39 475.75,230.42 476.50,230.45 477.25,230.48 478.00,230.51 478.75,230.54 479.50,230.57 480.25,230.57 481.00,230.49 481.75,230.41 482.50,230.34 483.25,230.26 484.00,230.18 484.75,230.11 485.50,230.03 486.25,229.95 487.00,229.88 487.75,229.80 488.50,229.53 489.25,229.16 490.00,228.80 490.75,228.43 491.50,228.07 492.25,227.70 493.00,227.33 493.75,226.97 494.50,226.60 495.25,226.30 496.00,226.14 496.75,225.97 497.50,225.81 498.25,225.64 499.00,225.48 499.75,225.31 500.50,225.10 501.25,224.89 502.00,224.69 502.75,224.48 503.50,224.27 504.25,224.07 505.00,223.86 505.75,223.66 506.50,223.45 507.25,223.24 508.00,223.04 508.75,222.83 509.50,222.62 510.25,222.42 511.00,222.46 511.75,222.71 512.50,222.97 513.25,223.22 514.00,223.47 514.75,223.68 515.50,223.22 516.25,222.77 517.00,222.31 517.75,221.85 518.50,221.39 519.25,220.93 520.00,220.47 520.75,220.01 521.50,219.55 522.25,219.08 523.00,218.61 523.75,218.13 524.50,217.66 525.25,217.18 526.00,217.08 526.75,217.37 527.50,217.66 528.25,217.95 529.00,217.51 529.75,217.06 530.50,216.71 531.25,217.07 532.00,217.43 532.75,217.78 533.50,217.36 534.25,216.94 535.00,216.52 535.75,216.75 536.50,216.99 537.25,217.23 538.00,217.13 538.75,217.03 539.50,216.94 540.25,216.91 541.00,216.88 541.75,216.86 542.50,217.27 543.25,217.95 544.00,218.63 544.75,218.97 545.50,219.31 546.25,219.65 547.00,220.25 547.75,220.85 548.50,221.45 549.25,221.88 550.00,222.31 550.75,222.62 551.50,222.95 552.25,223.27 553.00,223.83 553.75,224.81 554.50,225.80 555.25,226.78 556.00,227.79 556.75,228.80 557.50,229.81 558.25,231.08 559.00,232.33 559.75,233.59 560.50,234.27 561.25,234.95 562.00,235.64 562.75,236.43 563.50,237.12 564.25,237.54 565.00,238.01 565.75,238.48 566.50,238.95 567.25,239.66 568.00,240.37 568.75,241.07 569.50,241.75 570.25,242.43 571.00,243.11 571.75,243.43 572.50,243.75 573.25,244.07 574.00,244.60 574.75,245.32 575.50,246.04 576.25,246.48 577.00,246.92 577.75,247.36 578.50,248.36 579.25,249.36 580.00,250.36 580.75,251.19 581.50,251.93 582.25,252.67 583.00,252.86 583.75,253.05 584.50,253.24 585.25,253.76 586.00,254.29 586.75,254.61 587.50,255.03 588.25,255.45 589.00,255.86 589.75,256.20 590.50,256.54 591.25,256.87 592.00,257.41 592.75,257.93 593.50,258.46 594.25,258.90 595.00,259.33 595.75,259.77 596.50,259.94 597.25,259.83 598.00,259.61 598.75,259.18 599.50,258.75 600.25,258.33 601.00,258.76 601.75,259.63 602.50,260.50 603.25,261.09 604.00,261.68 604.75,262.27 605.50,262.93 606.25,263.59 607.00,264.25 607.75,264.42 608.50,264.59 609.25,264.77 610.00,265.54 610.75,267.13 611.50,268.72 612.25,269.98 613.00,270.50 613.75,270.65 614.50,271.04 615.25,271.42 616.00,271.81 616.75,271.87 617.50,271.93 618.25,271.99 619.00,273.08 619.75,274.17 620.50,275.27 621.25,275.02 622.00,274.77 622.75,274.51 623.50,274.59 624.25,274.69 625.00,274.81 625.75,274.85 626.50,274.89 627.25,274.93 628.00,275.83 628.75,276.74 629.50,277.64 630.25,277.59 631.00,277.55 631.75,277.50 632.50,278.10 633.25,278.70 634.00,279.31 634.75,279.40 635.50,279.49 636.25,279.57 637.00,279.94 637.75,280.31 638.50,280.67 639.25,281.48 640.00,282.29 640.75,283.10 641.50,283.42 642.25,283.74 643.00,284.04 643.75,284.32 644.50,284.60 645.25,284.89 646.00,285.65 646.75,286.41 647.50,287.18 648.25,287.89 649.00,288.61 649.75,289.33 650.50,289.73 651.25,290.14 652.00,290.54 652.75,290.42 653.50,290.30 654.25,290.19 655.00,289.76 655.75,289.34 656.50,288.91 657.25,289.24 658.00,289.57 658.75,289.90 659.50,289.67 660.25,289.43 661.00,289.20 661.75,289.66 662.50,289.89 663.25,290.06 664.00,289.48 664.75,288.90 665.50,288.32 666.25,287.71 667.00,287.35 667.75,287.67 668.50,288.43 669.25,289.19 670.00,289.96 670.75,290.39 671.50,290.73 672.25,291.08 673.00,291.32 673.75,291.57 674.50,291.81 675.25,291.72 676.00,291.63 676.75,291.54 677.50,291.28 678.25,291.02 679.00,290.79 679.75,290.25 680.50,289.71 681.25,289.17 682.00,290.12 682.75,291.07 683.50,292.02 684.25,292.03 685.00,292.04 685.75,292.05 686.50,291.66 687.25,291.28 688.00,290.89 688.75,290.80 689.50,290.62 690.25,290.45 691.00,289.93 691.75,289.41 692.50,288.89 693.25,289.27 694.00,289.65 694.75,290.03 695.50,289.63 696.25,289.23 697.00,288.84 697.75,288.65 698.50,288.45 699.25,288.26 700.00,288.27 700.75,288.29 701.50,288.31 702.25,288.69 703.00,289.07 703.75,289.45 704.50,289.22 705.25,288.91 706.00,288.58 706.75,288.20 707.50,287.82 708.25,287.44 709.00,287.45 709.75,287.45 710.50,287.46 711.25,287.02 712.00,286.58 712.75,286.14 713.50,285.81 714.25,285.48 715.00,285.15 715.75,285.39 716.00,285.47 716.00,394.0 67.00,394.0" fill="#77ce22"/>
<polygon points="67.00,302.10 67.75,301.64 68.50,301.17 69.25,300.71 70.00,301.01 70.75,301.32 71.50,301.63 72.25,301.34 73.00,301.06 73.75,300.77 74.50,300.60 75.25,300.44 76.00,300.27 76.75,300.40 77.50,300.53 78.25,300.67 79.00,300.58 79.75,300.49 80.50,300.40 81.25,300.31 82.00,300.21 82.75,300.11 83.50,300.21 84.25,300.19 85.00,300.16 85.75,299.27 86.50,298.38 87.25,297.49 88.00,296.95 88.75,296.42 89.50,295.89 90.25,295.73 91.00,295.58 91.75,295.43 92.50,294.75 93.25,294.07 94.00,293.39 94.75,293.10 95.50,292.73 96.25,292.32 97.00,291.74 97.75,291.15 98.50,290.56 99.25,289.95 100.00,289.59 100.75,289.22 101.50,289.14 102.25,289.05 103.00,288.96 103.75,289.16 104.50,289.36 105.25,289.55 106.00,289.47 106.75,289.39 107.50,288.85 108.25,288.04 109.00,287.24 109.75,286.44 110.50,286.23 111.25,286.02 112.00,285.82 112.75,285.74 113.50,285.67 114.25,285.59 115.00,285.95 115.75,286.32 116.50,286.25 117.25,286.22 118.00,286.20 118.75,286.18 119.50,285.57 120.25,284.93 121.00,284.24 121.75,283.46 122.50,282.68 123.25,281.90 124.00,282.26 124.75,282.61 125.50,282.77 126.25,281.29 127.00,279.80 127.75,278.32 128.50,277.79 129.25,277.26 130.00,276.73 130.75,276.20 131.50,275.67 132.25,275.14 133.00,273.71 133.75,273.37 134.50,273.03 135.25,273.37 136.00,273.71 136.75,274.04 137.50,272.76 138.25,271.08 139.00,269.39 139.75,268.67 140.50,268.32 141.25,268.16 142.00,267.37 142.75,266.57 143.50,265.78 144.25,265.50 145.00,265.29 145.75,265.09 146.50,264.32 147.25,263.55 148.00,262.78 148.75,262.84 149.50,262.70 150.25,262.46 151.00,261.66 151.75,260.86 152.50,260.05 153.25,259.23 154.00,258.65 154.75,258.07 155.50,257.94 156.25,257.81 157.00,257.67 157.75,257.24 158.50,256.71 159.25,256.13 160.00,255.50 160.75,254.87 161.50,254.23 162.25,253.40 163.00,252.57 163.75,251.26 164.50,250.34 165.25,249.42 166.00,248.50 166.75,247.63 167.50,246.76 168.25,245.88 169.00,245.31 169.75,244.74 170.50,244.17 171.25,243.68 172.00,243.18 172.75,242.69 173.50,241.72 174.25,240.74 175.00,239.77 175.75,239.25 176.50,238.74 177.25,238.22 178.00,238.01 178.75,237.95 179.50,237.88 180.25,237.09 181.00,236.30 181.75,235.51 182.50,234.96 183.25,234.37 184.00,233.78 184.75,232.98 185.50,232.19 186.25,231.39 187.00,230.73 187.75,229.16 188.50,227.60 189.25,225.99 190.00,224.38 190.75,223.33 191.50,222.35 192.25,221.78 193.00,222.03 193.75,222.60 194.50,223.17 195.25,223.75 196.00,224.18 196.75,223.95 197.50,223.72 198.25,223.38 199.00,223.03 199.75,222.69 200.50,222.35 201.25,222.01 202.00,221.67 202.75,221.11 203.50,220.54 204.25,219.94 205.00,219.27 205.75,218.61 206.50,217.94 207.25,217.42 208.00,216.91 208.75,216.40 209.50,216.12 210.25,215.76 211.00,215.24 211.75,214.46 212.50,213.69 213.25,212.91 214.00,211.71 214.75,210.50 215.50,209.59 216.25,209.48 217.00,209.37 217.75,209.27 218.50,209.12 219.25,208.97 220.00,208.83 220.75,207.91 221.50,207.00 222.25,206.09 223.00,205.92 223.75,205.75 224.50,205.57 225.25,204.83 226.00,204.29 226.75,203.75 227.50,203.06 228.25,202.37 229.00,201.68 229.75,201.52 230.50,201.41 231.25,201.33 232.00,201.01 232.75,200.69 233.50,200.37 234.25,199.61 235.00,198.85 235.75,198.32 236.50,198.33 237.25,198.35 238.00,198.36 238.75,198.13 239.50,197.89 240.25,197.66 241.00,197.38 241.75,197.09 242.50,196.81 243.25,196.13 244.00,195.46 244.75,194.78 245.50,195.47 246.25,196.19 247.00,196.92 247.75,196.43 248.50,195.94 249.25,195.45 250.00,195.66 250.75,195.87 251.50,196.09 252.25,196.02 253.00,195.96 253.75,195.89 254.50,195.57 255.25,195.26 256.00,195.20 256.75,195.46 257.50,195.71 258.25,195.97 259.00,196.87 259.75,197.78 260.50,198.69 261.25,199.54 262.00,200.39 262.75,201.25 263.50,201.66 264.25,201.93 265.00,202.03 265.75,202.01 266.50,201.99 267.25,201.96 268.00,202.36 268.75,202.75 269.50,203.14 270.25,203.40 271.00,203.67 271.75,203.94 272.50,204.11 273.25,204.29 274.00,204.47 274.75,204.66 275.50,204.85 276.25,205.04 277.00,205.00 277.75,204.96 278.50,204.92 279.25,205.13 280.00,205.34 280.75,205.55 281.50,206.40 282.25,207.25 283.00,208.10 283.75,207.88 284.50,207.66 285.25,207.44 286.00,207.85 286.75,208.26 287.50,208.66 288.25,208.86 289.00,209.07 289.75,209.27 290.50,209.27 291.25,209.27 292.00,209.27 292.75,209.63 293.50,209.99 294.25,210.35 295.00,210.68 295.75,211.01 296.50,211.34 297.25,211.22 298.00,211.11 298.75,211.00 299.50,211.43 300.25,211.90 301.00,212.36 301.75,212.53 302.50,212.69 303.25,212.86 304.00,213.42 304.75,213.99 305.50,214.56 306.25,214.88 307.00,215.21 307.75,215.53 308.50,216.23 309.25,216.93 310.00,217.63 310.75,217.61 311.50,217.59 312.25,217.58 313.00,217.93 313.75,218.29 314.50,218.65 315.25,219.14 316.00,219.62 316.75,220.10 317.50,220.53 318.25,220.96 319.00,221.39 319.75,221.75 320.50,222.12 321.25,222.48 322.00,222.87 322.75,223.26 323.50,223.64 324.25,224.21 325.00,224.77 325.75,225.33 326.50,226.01 327.25,226.63 328.00,227.25 328.75,227.25 329.50,227.26 330.25,227.26 331.00,227.87 331.75,228.48 332.50,229.10 333.25,229.29 334.00,229.49 334.75,229.68 335.50,230.09 336.25,230.49 337.00,230.90 337.75,231.29 338.50,231.68 339.25,232.07 340.00,232.66 340.75,233.05 341.50,233.44 342.25,233.30 343.00,233.15 343.75,233.00 344.50,233.28 345.25,233.55 346.00,233.82 346.75,234.22 347.50,234.62 348.25,235.01 349.00,235.03 349.75,235.04 350.50,235.06 351.25,235.24 352.00,235.43 352.75,235.61 353.50,235.84 354.25,235.98 355.00,236.12 355.75,235.95 356.50,235.77 357.25,235.59 358.00,235.75 358.75,235.91 359.50,236.07 360.25,235.93 361.00,235.79 361.75,235.65 362.50,236.26 363.25,236.86 364.00,237.47 364.75,237.54 365.50,237.61 366.25,237.68 367.00,237.52 367.75,237.34 368.50,237.15 369.25,237.30 370.00,237.44 370.75,237.59 371.50,237.45 372.25,237.32 373.00,237.18 373.75,237.12 374.50,237.05 375.25,236.99 376.00,237.14 376.75,237.30 377.50,237.46 378.25,237.84 379.00,238.22 379.75,238.59 380.50,238.36 381.25,238.19 382.00,238.02 382.75,238.74 383.50,239.45 384.25,240.17 385.00,240.11 385.75,240.05 386.50,240.00 387.25,240.27 388.00,240.54 388.75,240.80 389.50,241.19 390.25,241.57 391.00,241.96 391.75,242.10 392.50,242.23 393.25,242.37 394.00,242.92 394.75,243.39 395.50,243.77 396.25,243.59 397.00,243.41 397.75,243.22 398.50,243.57 399.25,243.92 400.00,244.27 400.75,244.00 401.50,243.73 402.25,243.46 403.00,243.52 403.75,243.59 404.50,243.65 405.25,243.52 406.00,243.39 406.75,243.27 407.50,244.13 408.25,245.01 409.00,245.89 409.75,245.66 410.50,245.43 411.25,245.20 412.00,245.72 412.75,246.23 413.50,246.75 414.25,246.94 415.00,247.13 415.75,247.32 416.50,246.91 417.25,246.50 418.00,246.10 418.75,246.55 419.50,247.00 420.25,247.45 421.00,247.84 421.75,248.22 422.50,248.55 423.25,248.26 424.00,247.97 424.75,247.68 425.50,247.82 426.25,247.96 427.00,248.10 427.75,248.13 428.50,248.17 429.25,248.21 430.00,248.62 430.75,249.02 431.50,249.43 432.25,248.85 433.00,248.28 433.75,247.70 434.50,248.17 435.25,248.62 436.00,249.07 436.75,249.30 437.50,249.53 438.25,249.76 439.00,249.78 439.75,249.81 440.50,249.83 441.25,249.64 442.00,249.44 442.75,249.25 443.50,249.31 444.25,249.37 445.00,249.43 445.75,249.34 446.50,249.26 447.25,249.17 448.00,249.54 448.75,249.91 449.50,250.18 450.25,249.96 451.00,249.75 451.75,249.54 452.50,249.41 453.25,249.29 454.00,249.17 454.75,249.27 455.50,249.37 456.25,249.47 457.00,249.19 457.75,248.91 458.50,248.63 459.25,248.99 460.00,249.34 460.75,249.70 461.50,249.63 462.25,249.54 463.00,249.46 463.75,249.14 464.50,248.81 465.25,248.48 466.00,248.28 466.75,248.09 467.50,247.89 468.25,248.26 469.00,248.64 469.75,249.01 470.50,248.64 471.25,248.27 472.00,247.90 472.75,248.22 473.50,248.53 474.25,248.85 475.00,248.53 475.75,248.20 476.50,247.78 477.25,247.93 478.00,248.08 478.75,248.22 479.50,247.68 480.25,247.14 481.00,246.61 481.75,246.26 482.50,245.91 483.25,245.56 484.00,245.65 484.75,245.74 485.50,245.83 486.25,245.47 487.00,245.12 487.75,244.76 488.50,244.43 489.25,244.05 490.00,243.65 490.75,243.46 491.50,243.27 492.25,243.08 493.00,243.01 493.75,242.93 494.50,242.86 495.25,242.50 496.00,242.13 496.75,241.77 497.50,241.65 498.25,241.54 499.00,241.42 499.75,240.81 500.50,240.21 501.25,239.60 502.00,238.99 502.75,238.37 503.50,237.79 504.25,238.31 505.00,238.84 505.75,239.37 506.50,238.68 507.25,237.99 508.00,237.30 508.75,237.02 509.50,236.74 510.25,236.46 511.00,236.64 511.75,236.82 512.50,237.00 513.25,236.63 514.00,236.25 514.75,235.88 515.50,235.45 516.25,235.00 517.00,234.50 517.75,234.36 518.50,234.22 519.25,234.08 520.00,233.63 520.75,233.19 521.50,232.74 522.25,232.26 523.00,231.78 523.75,231.30 524.50,231.12 525.25,231.02 526.00,231.10 526.75,231.19 527.50,231.28 528.25,231.37 529.00,231.20 529.75,231.03 530.50,230.86 531.25,230.97 532.00,231.08 532.75,231.20 533.50,230.85 534.25,230.57 535.00,230.29 535.75,230.75 536.50,231.22 537.25,231.68 538.00,231.77 538.75,231.86 539.50,231.95 540.25,231.92 541.00,231.89 541.75,231.86 542.50,232.38 543.25,232.92 544.00,233.47 544.75,233.49 545.50,233.51 546.25,233.54 547.00,233.86 547.75,234.19 548.50,234.51 549.25,234.78 550.00,235.04 550.75,235.46 551.50,235.77 552.25,236.07 553.00,236.56 553.75,237.45 554.50,238.35 555.25,239.24 556.00,240.24 556.75,241.24 557.50,242.24 558.25,243.28 559.00,244.25 559.75,245.22 560.50,245.76 561.25,246.30 562.00,246.85 562.75,247.57 563.50,248.25 564.25,248.79 565.00,249.11 565.75,249.43 566.50,249.75 567.25,250.45 568.00,251.16 568.75,251.85 569.50,252.55 570.25,253.25 571.00,253.94 571.75,254.40 572.50,254.85 573.25,255.30 574.00,255.53 574.75,255.90 575.50,256.27 576.25,256.66 577.00,257.04 577.75,257.42 578.50,258.35 579.25,259.29 580.00,260.22 580.75,261.02 581.50,261.69 582.25,262.36 583.00,262.62 583.75,262.87 584.50,263.12 585.25,263.40 586.00,263.69 586.75,263.79 587.50,264.23 588.25,264.66 589.00,265.10 589.75,265.04 590.50,264.98 591.25,264.92 592.00,265.72 592.75,266.52 593.50,267.32 594.25,267.63 595.00,267.95 595.75,268.27 596.50,268.66 597.25,268.95 598.00,269.20 598.75,268.98 599.50,268.76 600.25,268.53 601.00,268.95 601.75,269.52 602.50,270.08 603.25,270.30 604.00,270.52 604.75,270.75 605.50,271.33 606.25,271.90 607.00,272.48 607.75,272.58 608.50,272.68 609.25,272.78 610.00,273.67 610.75,275.05 611.50,276.44 612.25,276.98 613.00,277.06 613.75,276.91 614.50,277.50 615.25,278.10 616.00,278.69 616.75,278.49 617.50,278.30 618.25,278.10 619.00,279.17 619.75,280.24 620.50,281.31 621.25,281.16 622.00,281.01 622.75,280.87 623.50,280.93 624.25,281.01 625.00,281.11 625.75,281.38 626.50,281.64 627.25,281.91 628.00,282.43 628.75,282.95 629.50,283.47 630.25,283.66 631.00,283.85 631.75,284.04 632.50,284.55 633.25,285.07 634.00,285.60 634.75,285.79 635.50,285.98 636.25,286.17 637.00,286.38 637.75,286.58 638.50,286.79 639.25,287.63 640.00,288.47 640.75,289.31 641.50,289.45 642.25,289.60 643.00,289.75 643.75,289.95 644.50,290.15 645.25,290.36 646.00,291.05 646.75,291.73 647.50,292.42 648.25,292.97 649.00,293.52 649.75,294.07 650.50,294.51 651.25,294.95 652.00,295.40 652.75,295.36 653.50,295.33 654.25,295.29 655.00,294.95 655.75,294.61 656.50,294.27 657.25,294.46 658.00,294.65 658.75,294.84 659.50,294.93 660.25,295.01 661.00,295.10 661.75,295.45 662.50,295.49 663.25,295.45 664.00,295.15 664.75,294.86 665.50,294.56 666.25,293.81 667.00,293.33 667.75,293.56 668.50,294.22 669.25,294.87 670.00,295.53 670.75,296.09 671.50,296.58 672.25,297.06 673.00,297.07 673.75,297.08 674.50,297.09 675.25,297.12 676.00,297.16 676.75,297.19 677.50,297.42 678.25,297.65 679.00,297.81 679.75,297.19 680.50,296.57 681.25,295.95 682.00,296.77 682.75,297.59 683.50,298.40 684.25,298.19 685.00,297.97 685.75,297.75 686.50,297.39 687.25,297.03 688.00,296.67 688.75,296.62 689.50,296.49 690.25,296.36 691.00,295.98 691.75,295.60 692.50,295.22 693.25,295.51 694.00,295.79 694.75,296.08 695.50,295.84 696.25,295.61 697.00,295.38 697.75,295.05 698.50,294.71 699.25,294.38 700.00,294.18 700.75,293.98 701.50,293.78 702.25,294.10 703.00,294.42 703.75,294.74 704.50,294.69 705.25,294.64 706.00,294.59 706.75,294.15 707.50,293.70 708.25,293.25 709.00,293.18 709.75,293.11 710.50,293.04 711.25,292.82 712.00,292.59 712.75,292.37 713.50,292.16 714.25,291.95 715.00,291.74 715.75,291.97 716.00,292.04 716.00,394.0 67.00,394.0" fill="#22cdd0"/>
<polygon points="67.00,309.91 67.75,309.44 68.50,308.98 69.25,308.52 70.00,308.77 70.75,309.02 71.50,309.28 72.25,308.92 73.00,308.56 73.75,308.19 74.50,308.00 75.25,307.81 76.00,307.62 76.75,307.63 77.50,307.64 78.25,307.65 79.00,307.52 79.75,307.39 80.50,307.26 81.25,306.91 82.00,306.56 82.75,306.22 83.50,306.44 84.25,306.57 85.00,306.70 85.75,305.97 86.50,305.24 87.25,304.52 88.00,304.01 88.75,303.50 89.50,303.00 90.25,302.72 91.00,302.43 91.75,302.15 92.50,301.60 93.25,301.04 94.00,300.49 94.75,300.27 95.50,299.86 96.25,299.35 97.00,298.60 97.75,297.86 98.50,297.12 99.25,296.18 100.00,295.25 100.75,295.17 101.50,295.74 102.25,296.31 103.00,296.88 103.75,297.12 104.50,297.11 105.25,296.98 106.00,296.72 106.75,296.46 107.50,296.19 108.25,295.42 109.00,294.34 109.75,293.26 110.50,293.08 111.25,292.91 112.00,292.73 112.75,292.12 113.50,291.51 114.25,290.90 115.00,290.72 115.75,290.53 116.50,290.34 117.25,290.26 118.00,290.19 118.75,290.12 119.50,289.68 120.25,289.16 121.00,288.48 121.75,287.67 122.50,286.85 123.25,286.04 124.00,286.14 124.75,286.24 125.50,286.24 126.25,285.06 127.00,283.89 127.75,282.71 128.50,282.28 129.25,281.84 130.00,281.41 130.75,280.74 131.50,280.08 132.25,279.41 133.00,278.53 133.75,278.20 134.50,277.88 135.25,277.95 136.00,278.03 136.75,278.10 137.50,277.87 138.25,277.89 139.00,277.91 139.75,277.50 140.50,277.10 141.25,276.69 142.00,275.62 142.75,274.54 143.50,273.72 144.25,273.59 145.00,273.46 145.75,273.33 146.50,272.66 147.25,271.93 148.00,271.07 148.75,271.10 149.50,271.13 150.25,271.16 151.00,270.67 151.75,269.80 152.50,268.93 153.25,267.88 154.00,267.39 154.75,266.90 155.50,266.75 156.25,266.51 157.00,266.28 157.75,265.92 158.50,265.56 159.25,265.20 160.00,264.87 160.75,264.53 161.50,264.20 162.25,263.45 163.00,262.69 163.75,261.93 164.50,261.65 165.25,261.29 166.00,260.93 166.75,260.22 167.50,259.51 168.25,258.80 169.00,258.54 169.75,258.28 170.50,258.02 171.25,257.63 172.00,257.23 172.75,256.84 173.50,256.01 174.25,255.19 175.00,254.36 175.75,253.95 176.50,253.53 177.25,253.25 178.00,253.22 178.75,253.20 179.50,253.18 180.25,252.41 181.00,251.63 181.75,250.86 182.50,250.59 183.25,250.32 184.00,250.04 184.75,249.67 185.50,249.31 186.25,248.94 187.00,248.58 187.75,248.29 188.50,248.96 189.25,249.53 190.00,250.11 190.75,250.69 191.50,251.38 192.25,252.07 193.00,252.75 193.75,253.64 194.50,254.53 195.25,254.07 196.00,253.53 196.75,252.99 197.50,252.45 198.25,251.86 199.00,251.27 199.75,250.67 200.50,250.06 201.25,249.45 202.00,248.84 202.75,248.01 203.50,247.17 204.25,246.37 205.00,245.67 205.75,244.97 206.50,244.27 207.25,243.75 208.00,243.24 208.75,242.72 209.50,242.14 210.25,241.55 211.00,240.97 211.75,240.45 212.50,239.93 213.25,239.41 214.00,238.59 214.75,237.76 215.50,236.94 216.25,236.57 217.00,236.20 217.75,235.82 218.50,235.36 219.25,234.88 220.00,234.40 220.75,233.58 221.50,232.75 222.25,231.93 223.00,231.79 223.75,231.64 224.50,231.50 225.25,230.83 226.00,230.16 226.75,229.98 227.50,229.61 228.25,229.24 229.00,228.87 229.75,229.04 230.50,229.21 231.25,229.37 232.00,229.30 232.75,229.24 233.50,229.17 234.25,228.74 235.00,228.39 235.75,228.05 236.50,228.24 237.25,228.43 238.00,228.62 238.75,228.60 239.50,228.57 240.25,228.54 241.00,228.56 241.75,228.58 242.50,228.59 243.25,227.90 244.00,227.20 244.75,226.50 245.50,227.13 246.25,227.76 247.00,228.39 247.75,228.24 248.50,228.09 249.25,227.93 250.00,228.26 250.75,228.58 251.50,228.90 252.25,228.78 253.00,228.65 253.75,228.52 254.50,228.40 255.25,228.28 256.00,228.16 256.75,228.08 257.50,228.01 258.25,227.94 259.00,228.26 259.75,228.57 260.50,228.89 261.25,229.45 262.00,230.02 262.75,230.58 263.50,230.60 264.25,230.62 265.00,230.63 265.75,230.67 266.50,230.71 267.25,230.75 268.00,230.97 268.75,231.19 269.50,231.40 270.25,231.61 271.00,231.82 271.75,232.03 272.50,232.06 273.25,232.07 274.00,232.08 274.75,232.10 275.50,232.12 276.25,232.14 277.00,231.97 277.75,231.80 278.50,231.62 279.25,231.80 280.00,231.97 280.75,232.15 281.50,232.81 282.25,233.48 283.00,234.14 283.75,233.98 284.50,233.81 285.25,233.65 286.00,233.74 286.75,233.81 287.50,233.89 288.25,233.94 289.00,234.00 289.75,234.05 290.50,234.01 291.25,233.97 292.00,233.92 292.75,234.17 293.50,234.43 294.25,234.68 295.00,234.79 295.75,234.90 296.50,235.01 297.25,234.86 298.00,234.72 298.75,234.57 299.50,234.73 300.25,234.91 301.00,235.09 301.75,235.13 302.50,235.18 303.25,235.22 304.00,235.78 304.75,236.35 305.50,236.91 306.25,237.01 307.00,237.10 307.75,237.20 308.50,237.67 309.25,238.14 310.00,238.61 310.75,238.50 311.50,238.38 312.25,238.27 313.00,238.53 313.75,238.80 314.50,239.07 315.25,239.57 316.00,240.07 316.75,240.58 317.50,240.93 318.25,241.28 319.00,241.63 319.75,241.90 320.50,242.17 321.25,242.44 322.00,242.64 322.75,242.83 323.50,243.02 324.25,243.31 325.00,243.60 325.75,243.89 326.50,244.51 327.25,245.10 328.00,245.68 328.75,245.54 329.50,245.40 330.25,245.25 331.00,245.76 331.75,246.27 332.50,246.78 333.25,247.14 334.00,247.50 334.75,247.87 335.50,248.00 336.25,248.14 337.00,248.27 337.75,248.56 338.50,248.84 339.25,249.13 340.00,249.42 340.75,249.56 341.50,249.70 342.25,249.42 343.00,249.14 343.75,248.87 344.50,249.29 345.25,249.72 346.00,250.14 346.75,250.38 347.50,250.62 348.25,250.86 349.00,250.74 349.75,250.62 350.50,250.50 351.25,250.70 352.00,250.90 352.75,251.11 353.50,251.24 354.25,251.36 355.00,251.48 355.75,251.27 356.50,251.06 357.25,250.85 358.00,250.82 358.75,250.79 359.50,250.76 360.25,250.77 361.00,250.77 361.75,250.77 362.50,251.14 363.25,251.51 364.00,251.87 364.75,252.01 365.50,252.15 366.25,252.29 367.00,252.03 367.75,252.00 368.50,251.97 369.25,252.25 370.00,252.54 370.75,252.83 371.50,253.13 372.25,253.44 373.00,253.74 373.75,253.91 374.50,253.91 375.25,253.81 376.00,253.80 376.75,253.79 377.50,253.78 378.25,254.26 379.00,254.74 379.75,255.22 380.50,254.87 381.25,254.57 382.00,254.26 382.75,254.81 383.50,255.36 384.25,255.91 385.00,255.72 385.75,255.53 386.50,255.34 387.25,255.64 388.00,255.94 388.75,256.25 389.50,256.44 390.25,256.63 391.00,256.83 391.75,256.76 392.50,256.70 393.25,256.64 394.00,257.00 394.75,257.27 395.50,257.54 396.25,257.65 397.00,257.76 397.75,257.87 398.50,257.86 399.25,257.84 400.00,257.83 400.75,257.56 401.50,257.29 402.25,257.03 403.00,257.25 403.75,257.48 404.50,257.70 405.25,257.57 406.00,257.45 406.75,257.32 407.50,257.98 408.25,258.68 409.00,259.37 409.75,259.22 410.50,259.07 411.25,258.93 412.00,259.39 412.75,259.85 413.50,260.31 414.25,260.43 415.00,260.55 415.75,260.67 416.50,260.38 417.25,260.09 418.00,259.81 418.75,260.20 419.50,260.60 420.25,261.00 421.00,261.36 421.75,261.66 422.50,261.72 423.25,261.14 424.00,260.56 424.75,259.98 425.50,259.79 426.25,259.60 427.00,259.40 427.75,259.20 428.50,259.00 429.25,258.80 430.00,259.10 430.75,259.41 431.50,259.72 432.25,258.95 433.00,258.17 433.75,257.40 434.50,257.50 435.25,257.66 436.00,257.82 436.75,258.20 437.50,258.57 438.25,258.95 439.00,258.97 439.75,258.99 440.50,259.00 441.25,258.93 442.00,258.86 442.75,258.79 443.50,258.64 444.25,258.49 445.00,258.33 445.75,258.37 446.50,258.42 447.25,258.46 448.00,258.77 448.75,259.08 449.50,259.31 450.25,259.18 451.00,259.06 451.75,258.93 452.50,258.72 453.25,258.51 454.00,258.31 454.75,258.35 455.50,258.39 456.25,258.43 457.00,258.30 457.75,258.18 458.50,258.05 459.25,258.35 460.00,258.64 460.75,258.93 461.50,258.78 462.25,258.64 463.00,258.49 463.75,258.30 464.50,258.11 465.25,257.92 466.00,257.73 466.75,257.55 467.50,257.37 468.25,257.72 469.00,258.07 469.75,258.42 470.50,258.12 471.25,257.83 472.00,257.53 472.75,257.66 473.50,257.79 474.25,257.93 475.00,257.78 475.75,257.63 476.50,257.47 477.25,257.58 478.00,257.69 478.75,257.80 479.50,257.38 480.25,256.97 481.00,256.55 481.75,256.55 482.50,256.55 483.25,256.55 484.00,256.66 484.75,256.76 485.50,256.86 486.25,256.70 487.00,256.53 487.75,256.37 488.50,256.11 489.25,255.78 490.00,255.46 490.75,255.20 491.50,254.94 492.25,254.68 493.00,254.62 493.75,254.55 494.50,254.48 495.25,254.03 496.00,253.59 496.75,253.14 497.50,253.00 498.25,253.07 499.00,253.20 499.75,253.09 500.50,252.98 501.25,252.87 502.00,252.47 502.75,252.07 503.50,251.67 504.25,252.34 505.00,253.01 505.75,253.68 506.50,253.34 507.25,253.08 508.00,252.83 508.75,253.40 509.50,253.98 510.25,254.56 511.00,254.87 511.75,255.18 512.50,255.49 513.25,255.76 514.00,256.03 514.75,256.30 515.50,256.20 516.25,255.93 517.00,255.35 517.75,255.49 518.50,255.63 519.25,255.77 520.00,255.45 520.75,255.12 521.50,254.80 522.25,254.32 523.00,253.83 523.75,253.35 524.50,253.14 525.25,252.97 526.00,252.91 526.75,253.09 527.50,253.26 528.25,253.44 529.00,253.48 529.75,253.52 530.50,253.56 531.25,253.34 532.00,253.12 532.75,252.90 533.50,252.81 534.25,252.81 535.00,252.80 535.75,253.26 536.50,253.71 537.25,254.16 538.00,254.31 538.75,254.47 539.50,254.63 540.25,254.72 541.00,254.81 541.75,254.90 542.50,255.19 543.25,255.40 544.00,255.62 544.75,255.34 545.50,255.07 546.25,254.79 547.00,254.81 547.75,254.82 548.50,254.84 549.25,254.78 550.00,254.72 550.75,255.00 551.50,255.24 552.25,255.49 553.00,255.88 553.75,256.71 554.50,257.53 555.25,258.36 556.00,259.05 556.75,259.73 557.50,260.42 558.25,261.16 559.00,261.83 559.75,262.50 560.50,262.86 561.25,263.22 562.00,263.58 562.75,264.21 563.50,264.80 564.25,265.32 565.00,265.50 565.75,265.67 566.50,265.85 567.25,266.43 568.00,267.01 568.75,267.57 569.50,268.04 570.25,268.50 571.00,268.97 571.75,269.21 572.50,269.44 573.25,269.67 574.00,269.92 574.75,270.20 575.50,270.47 576.25,270.54 577.00,270.62 577.75,270.69 578.50,271.15 579.25,271.61 580.00,272.06 580.75,272.58 581.50,273.35 582.25,274.12 583.00,274.49 583.75,274.50 584.50,274.29 585.25,274.50 586.00,274.70 586.75,274.91 587.50,274.85 588.25,274.79 589.00,274.85 589.75,275.09 590.50,275.34 591.25,275.58 592.00,275.99 592.75,276.39 593.50,276.79 594.25,277.15 595.00,277.44 595.75,277.73 596.50,278.03 597.25,278.33 598.00,278.64 598.75,278.49 599.50,278.39 600.25,278.43 601.00,278.85 601.75,279.27 602.50,279.69 603.25,280.07 604.00,280.45 604.75,280.84 605.50,281.28 606.25,281.73 607.00,282.17 607.75,282.32 608.50,282.47 609.25,282.61 610.00,283.52 610.75,284.39 611.50,285.25 612.25,285.24 613.00,285.05 613.75,284.76 614.50,285.27 615.25,285.77 616.00,286.28 616.75,286.08 617.50,285.88 618.25,285.68 619.00,286.44 619.75,287.21 620.50,287.97 621.25,287.70 622.00,287.43 622.75,287.16 623.50,287.18 624.25,287.25 625.00,287.41 625.75,287.55 626.50,287.68 627.25,287.82 628.00,288.29 628.75,288.75 629.50,289.22 630.25,289.59 631.00,289.96 631.75,290.33 632.50,290.70 633.25,291.06 634.00,291.44 634.75,291.66 635.50,291.89 636.25,292.11 637.00,292.36 637.75,292.61 638.50,292.86 639.25,293.58 640.00,294.29 640.75,295.01 641.50,295.27 642.25,295.53 643.00,295.79 643.75,295.95 644.50,296.10 645.25,296.26 646.00,296.87 646.75,297.48 647.50,298.09 648.25,298.62 649.00,299.15 649.75,299.69 650.50,300.12 651.25,300.56 652.00,301.00 652.75,300.84 653.50,300.69 654.25,300.53 655.00,300.53 655.75,300.53 656.50,300.53 657.25,300.71 658.00,300.90 658.75,301.08 659.50,301.38 660.25,301.68 661.00,301.98 661.75,302.23 662.50,302.16 663.25,302.02 664.00,301.71 664.75,301.41 665.50,301.11 666.25,300.41 667.00,299.94 667.75,300.08 668.50,300.83 669.25,301.58 670.00,302.33 670.75,302.84 671.50,303.28 672.25,303.72 673.00,303.57 673.75,303.41 674.50,303.26 675.25,303.42 676.00,303.58 676.75,303.74 677.50,303.85 678.25,303.97 679.00,304.08 679.75,303.72 680.50,303.36 681.25,303.00 682.00,303.65 682.75,304.30 683.50,304.95 684.25,304.84 685.00,304.73 685.75,304.61 686.50,304.38 687.25,304.14 688.00,303.90 688.75,304.00 689.50,304.00 690.25,304.00 691.00,303.55 691.75,303.11 692.50,302.67 693.25,302.92 694.00,303.18 694.75,303.44 695.50,303.21 696.25,302.99 697.00,302.77 697.75,302.49 698.50,302.22 699.25,301.95 700.00,301.78 700.75,301.61 701.50,301.45 702.25,301.75 703.00,302.05 703.75,302.35 704.50,302.21 705.25,301.99 706.00,301.75 706.75,301.57 707.50,301.39 708.25,301.21 709.00,301.00 709.75,300.79 710.50,300.58 711.25,300.31 712.00,300.03 712.75,299.75 713.50,299.38 714.25,299.01 715.00,298.64 715.75,298.90 716.00,298.99 716.00,394.0 67.00,394.0" fill="#d71313"/>
<polygon points="67.00,309.91 67.75,309.44 68.50,308.98 69.25,308.52 70.00,308.77 70.75,309.02 71.50,309.28 72.25,308.92 73.00,308.56 73.75,308.19 74.50,308.00 75.25,307.81 76.00,307.62 76.75,307.63 77.50,307.64 78.25,307.65 79.00,307.52 79.75,307.39 80.50,307.26 81.25,306.91 82.00,306.56 82.75,306.22 83.50,306.44 84.25,306.57 85.00,306.70 85.75,305.97 86.50,305.24 87.25,304.52 88.00,304.01 88.75,303.50 89.50,303.00 90.25,302.72 91.00,302.43 91.75,302.15 92.50,301.60 93.25,301.04 94.00,300.49 94.75,300.27 95.50,299.86 96.25,299.35 97.00,298.60 97.75,297.86 98.50,297.12 99.25,296.18 100.00,295.25 100.75,295.17 101.50,295.74 102.25,296.31 103.00,296.88 103.75,297.12 104.50,297.11 105.25,296.98 106.00,296.72 106.75,296.46 107.50,296.19 108.25,295.42 109.00,294.34 109.75,293.26 110.50,293.08 111.25,292.91 112.00,292.73 112.75,292.12 113.50,291.51 114.25,290.90 115.00,290.72 115.75,290.53 116.50,290.34 117.25,290.26 118.00,290.19 118.75,290.12 119.50,289.68 120.25,289.16 121.00,288.48 121.75,287.67 122.50,286.85 123.25,286.04 124.00,286.14 124.75,286.24 125.50,286.24 126.25,285.06 127.00,283.89 127.75,282.71 128.50,282.28 129.25,281.84 130.00,281.41 130.75,280.74 131.50,280.08 132.25,279.41 133.00,278.53 133.75,278.20 134.50,277.88 135.25,277.95 136.00,278.03 136.75,278.10 137.50,277.87 138.25,277.89 139.00,277.91 139.75,277.50 140.50,277.10 141.25,276.69 142.00,275.62 142.75,274.54 143.50,273.72 144.25,273.59 145.00,273.46 145.75,273.33 146.50,272.66 147.25,271.93 148.00,271.07 148.75,271.10 149.50,271.13 150.25,271.16 151.00,270.67 151.75,269.80 152.50,268.93 153.25,267.88 154.00,267.39 154.75,266.90 155.50,266.75 156.25,266.51 157.00,266.28 157.75,265.92 158.50,265.56 159.25,265.20 160.00,264.87 160.75,264.56 161.50,264.26 162.25,263.53 163.00,262.80 163.75,262.08 164.50,261.81 165.25,261.48 166.00,261.15 166.75,260.47 167.50,259.79 168.25,259.11 169.00,258.88 169.75,258.64 170.50,258.41 171.25,258.05 172.00,257.68 172.75,257.32 173.50,256.52 174.25,255.72 175.00,254.93 175.75,254.54 176.50,254.15 177.25,253.90 178.00,253.91 178.75,253.91 179.50,253.92 180.25,253.18 181.00,252.44 181.75,251.70 182.50,251.46 183.25,251.22 184.00,250.98 184.75,250.64 185.50,250.30 186.25,249.96 187.00,249.64 187.75,249.38 188.50,250.08 189.25,250.69 190.00,251.29 190.75,251.90 191.50,252.62 192.25,253.34 193.00,254.06 193.75,254.98 194.50,255.90 195.25,255.47 196.00,254.97 196.75,254.46 197.50,253.95 198.25,253.39 199.00,252.83 199.75,252.26 200.50,251.69 201.25,251.11 202.00,250.54 202.75,249.74 203.50,248.95 204.25,248.18 205.00,247.52 205.75,246.86 206.50,246.19 207.25,245.72 208.00,245.24 208.75,244.76 209.50,244.21 210.25,243.67 211.00,243.12 211.75,242.64 212.50,242.15 213.25,241.67 214.00,240.89 214.75,240.10 215.50,239.32 216.25,238.98 217.00,238.65 217.75,238.31 218.50,237.86 219.25,237.40 220.00,236.93 220.75,236.11 221.50,235.30 222.25,234.48 223.00,234.35 223.75,234.21 224.50,234.07 225.25,233.42 226.00,232.76 226.75,232.58 227.50,232.22 228.25,231.86 229.00,231.50 229.75,231.68 230.50,231.85 231.25,232.03 232.00,231.97 232.75,231.91 233.50,231.86 234.25,231.44 235.00,231.10 235.75,230.76 236.50,230.96 237.25,231.16 238.00,231.36 238.75,231.34 239.50,231.33 240.25,231.31 241.00,231.33 241.75,231.36 242.50,231.38 243.25,230.70 244.00,230.01 244.75,229.32 245.50,229.96 246.25,230.60 247.00,231.24 247.75,231.09 248.50,230.95 249.25,230.80 250.00,231.14 250.75,231.47 251.50,231.80 252.25,231.68 253.00,231.57 253.75,231.45 254.50,231.33 255.25,231.22 256.00,231.11 256.75,231.04 257.50,230.98 258.25,230.92 259.00,231.24 259.75,231.57 260.50,231.89 261.25,232.45 262.00,233.02 262.75,233.58 263.50,233.60 264.25,233.62 265.00,233.63 265.75,233.67 266.50,233.71 267.25,233.75 268.00,233.97 268.75,234.19 269.50,234.40 270.25,234.61 271.00,234.82 271.75,235.03 272.50,235.06 273.25,235.07 274.00,235.08 274.75,235.10 275.50,235.12 276.25,235.14 277.00,234.97 277.75,234.80 278.50,234.62 279.25,234.80 280.00,234.97 280.75,235.15 281.50,235.81 282.25,236.48 283.00,237.14 283.75,236.98 284.50,236.81 285.25,236.65 286.00,236.74 286.75,236.81 287.50,236.89 288.25,236.94 289.00,237.00 289.75,237.05 290.50,237.01 291.25,236.97 292.00,236.92 292.75,237.17 293.50,237.43 294.25,237.68 295.00,237.79 295.75,237.90 296.50,238.01 297.25,237.86 298.00,237.72 298.75,237.57 299.50,237.73 300.25,237.91 301.00,238.09 301.75,238.13 302.50,238.17 303.25,238.21 304.00,238.77 304.75,239.33 305.50,239.89 306.25,239.99 307.00,240.08 307.75,240.17 308.50,240.64 309.25,241.11 310.00,241.58 310.75,241.46 311.50,241.34 312.25,241.23 313.00,241.49 313.75,241.75 314.50,242.02 315.25,242.52 316.00,243.02 316.75,243.52 317.50,243.87 318.25,244.22 319.00,244.57 319.75,244.84 320.50,245.10 321.25,245.37 322.00,245.56 322.75,245.75 323.50,245.94 324.25,246.23 325.00,246.52 325.75,246.80 326.50,247.42 327.25,248.01 328.00,248.59 328.75,248.44 329.50,248.30 330.25,248.15 331.00,248.66 331.75,249.16 332.50,249.67 333.25,250.03 334.00,250.39 334.75,250.75 335.50,250.88 336.25,251.02 337.00,251.15 337.75,251.43 338.50,251.71 339.25,252.00 340.00,252.29 340.75,252.42 341.50,252.56 342.25,252.28 343.00,252.00 343.75,251.72 344.50,252.14 345.25,252.56 346.00,252.98 346.75,253.22 347.50,253.46 348.25,253.70 349.00,253.58 349.75,253.45 350.50,253.33 351.25,253.53 352.00,253.73 352.75,253.93 353.50,254.06 354.25,254.18 355.00,254.30 355.75,254.09 356.50,253.87 357.25,253.66 358.00,253.63 358.75,253.60 359.50,253.56 360.25,253.56 361.00,253.55 361.75,253.55 362.50,253.90 363.25,254.26 364.00,254.62 364.75,254.75 365.50,254.87 366.25,255.00 367.00,254.73 367.75,254.69 368.50,254.65 369.25,254.93 370.00,255.20 370.75,255.48 371.50,255.77 372.25,256.07 373.00,256.36 373.75,256.52 374.50,256.51 375.25,256.40 376.00,256.38 376.75,256.36 377.50,256.34 378.25,256.81 379.00,257.28 379.75,257.75 380.50,257.39 381.25,257.08 382.00,256.76 382.75,257.23 383.50,257.69 384.25,258.16 385.00,257.89 385.75,257.61 386.50,257.34 387.25,257.56 388.00,257.78 388.75,258.01 389.50,258.12 390.25,258.23 391.00,258.34 391.75,258.19 392.50,258.10 393.25,258.04 394.00,258.40 394.75,258.67 395.50,258.93 396.25,259.04 397.00,259.15 397.75,259.26 398.50,259.25 399.25,259.23 400.00,259.22 400.75,258.95 401.50,258.68 402.25,258.42 403.00,258.64 403.75,258.86 404.50,259.08 405.25,258.96 406.00,258.83 406.75,258.70 407.50,259.36 408.25,260.06 409.00,260.75 409.75,260.60 410.50,260.45 411.25,260.31 412.00,260.76 412.75,261.22 413.50,261.68 414.25,261.80 415.00,261.92 415.75,262.04 416.50,261.75 417.25,261.46 418.00,261.18 418.75,261.57 419.50,261.97 420.25,262.37 421.00,262.73 421.75,263.03 422.50,263.08 423.25,262.50 424.00,261.92 424.75,261.34 425.50,261.15 426.25,260.96 427.00,260.76 427.75,260.56 428.50,260.36 429.25,260.16 430.00,260.46 430.75,260.77 431.50,261.07 432.25,260.30 433.00,259.53 433.75,258.75 434.50,258.85 435.25,259.01 436.00,259.17 436.75,259.55 437.50,259.92 438.25,260.29 439.00,260.31 439.75,260.33 440.50,260.35 441.25,260.28 442.00,260.21 442.75,260.14 443.50,259.98 444.25,259.83 445.00,259.67 445.75,259.71 446.50,259.75 447.25,259.80 448.00,260.11 448.75,260.42 449.50,260.65 450.25,260.52 451.00,260.39 451.75,260.26 452.50,260.05 453.25,259.84 454.00,259.64 454.75,259.68 455.50,259.72 456.25,259.76 457.00,259.63 457.75,259.50 458.50,259.38 459.25,259.67 460.00,259.96 460.75,260.26 461.50,260.11 462.25,259.96 463.00,259.81 463.75,259.62 464.50,259.43 465.25,259.23 466.00,259.05 466.75,258.87 467.50,258.68 468.25,259.03 469.00,259.38 469.75,259.73 470.50,259.43 471.25,259.14 472.00,258.84 472.75,258.97 473.50,259.10 474.25,259.23 475.00,259.09 475.75,258.94 476.50,258.77 477.25,258.88 478.00,258.99 478.75,259.10 479.50,258.68 480.25,258.28 481.00,257.89 481.75,257.92 482.50,257.96 483.25,257.99 484.00,258.12 484.75,258.26 485.50,258.39 486.25,258.26 487.00,258.12 487.75,257.99 488.50,257.76 489.25,257.47 490.00,257.17 490.75,256.95 491.50,256.72 492.25,256.50 493.00,256.50 493.75,256.50 494.50,256.50 495.25,256.12 496.00,255.74 496.75,255.35 497.50,255.28 498.25,255.41 499.00,255.62 499.75,255.57 500.50,255.49 501.25,255.38 502.00,254.98 502.75,254.59 503.50,254.19 504.25,254.87 505.00,255.55 505.75,256.22 506.50,255.88 507.25,255.63 508.00,255.39 508.75,255.97 509.50,256.55 510.25,257.14 511.00,257.45 511.75,257.77 512.50,258.08 513.25,258.36 514.00,258.63 514.75,258.91 515.50,258.81 516.25,258.56 517.00,257.98 517.75,258.12 518.50,258.27 519.25,258.41 520.00,258.10 520.75,257.78 521.50,257.46 522.25,256.98 523.00,256.51 523.75,256.03 524.50,255.82 525.25,255.66 526.00,255.61 526.75,255.79 527.50,255.97 528.25,256.15 529.00,256.20 529.75,256.24 530.50,256.28 531.25,256.07 532.00,255.86 532.75,255.65 533.50,255.56 534.25,255.56 535.00,255.57 535.75,256.02 536.50,256.48 537.25,256.94 538.00,257.10 538.75,257.26 539.50,257.43 540.25,257.51 541.00,257.57 541.75,257.63 542.50,257.89 543.25,258.07 544.00,258.26 544.75,257.95 545.50,257.65 546.25,257.34 547.00,257.33 547.75,257.31 548.50,257.30 549.25,257.21 550.00,257.12 550.75,257.37 551.50,257.58 552.25,257.80 553.00,258.16 553.75,258.96 554.50,259.75 555.25,260.55 556.00,261.22 556.75,261.89 557.50,262.56 558.25,263.28 559.00,263.93 559.75,264.59 560.50,264.93 561.25,265.27 562.00,265.61 562.75,266.22 563.50,266.80 564.25,267.30 565.00,267.46 565.75,267.62 566.50,267.77 567.25,268.33 568.00,268.89 568.75,269.44 569.50,269.89 570.25,270.34 571.00,270.79 571.75,271.00 572.50,271.22 573.25,271.44 574.00,271.67 574.75,271.92 575.50,272.17 576.25,272.23 577.00,272.29 577.75,272.34 578.50,272.78 579.25,273.22 580.00,273.66 580.75,274.16 581.50,274.92 582.25,275.68 583.00,276.03 583.75,276.03 584.50,275.80 585.25,275.99 586.00,276.18 586.75,276.38 587.50,276.30 588.25,276.23 589.00,276.27 589.75,276.50 590.50,276.73 591.25,276.96 592.00,277.35 592.75,277.74 593.50,278.12 594.25,278.47 595.00,278.74 595.75,279.02 596.50,279.30 597.25,279.59 598.00,279.88 598.75,279.71 599.50,279.60 600.25,279.62 601.00,280.03 601.75,280.43 602.50,280.84 603.25,281.20 604.00,281.57 604.75,281.94 605.50,282.37 606.25,282.80 607.00,283.23 607.75,283.36 608.50,283.50 609.25,283.63 610.00,284.52 610.75,285.38 611.50,286.23 612.25,286.21 613.00,286.01 613.75,285.71 614.50,286.21 615.25,286.70 616.00,287.20 616.75,286.99 617.50,286.78 618.25,286.57 619.00,287.32 619.75,288.08 620.50,288.83 621.25,288.55 622.00,288.27 622.75,287.99 623.50,288.00 624.25,288.06 625.00,288.21 625.75,288.34 626.50,288.46 627.25,288.59 628.00,289.05 628.75,289.50 629.50,289.96 630.25,290.32 631.00,290.68 631.75,291.04 632.50,291.40 633.25,291.75 634.00,292.12 634.75,292.33 635.50,292.55 636.25,292.76 637.00,293.00 637.75,293.24 638.50,293.48 639.25,294.19 640.00,294.89 640.75,295.61 641.50,295.87 642.25,296.13 643.00,296.39 643.75,296.54 644.50,296.70 645.25,296.85 646.00,297.46 646.75,298.07 647.50,298.68 648.25,299.21 649.00,299.74 649.75,300.27 650.50,300.71 651.25,301.15 652.00,301.58 652.75,301.43 653.50,301.27 654.25,301.11 655.00,301.11 655.75,301.11 656.50,301.10 657.25,301.29 658.00,301.47 658.75,301.66 659.50,301.96 660.25,302.25 661.00,302.55 661.75,302.80 662.50,302.73 663.25,302.59 664.00,302.28 664.75,301.98 665.50,301.67 666.25,300.98 667.00,300.51 667.75,300.65 668.50,301.39 669.25,302.14 670.00,302.89 670.75,303.40 671.50,303.84 672.25,304.28 673.00,304.12 673.75,303.97 674.50,303.81 675.25,303.97 676.00,304.13 676.75,304.29 677.50,304.40 678.25,304.52 679.00,304.63 679.75,304.27 680.50,303.91 681.25,303.55 682.00,304.20 682.75,304.85 683.50,305.49 684.25,305.38 685.00,305.27 685.75,305.15 686.50,304.91 687.25,304.68 688.00,304.44 688.75,304.54 689.50,304.54 690.25,304.53 691.00,304.09 691.75,303.64 692.50,303.20 693.25,303.45 694.00,303.71 694.75,303.97 695.50,303.74 696.25,303.51 697.00,303.29 697.75,303.02 698.50,302.74 699.25,302.47 700.00,302.30 700.75,302.13 701.50,301.97 702.25,302.27 703.00,302.57 703.75,302.87 704.50,302.73 705.25,302.51 706.00,302.26 706.75,302.08 707.50,301.90 708.25,301.72 709.00,301.51 709.75,301.30 710.50,301.09 711.25,300.81 712.00,300.53 712.75,300.26 713.50,299.89 714.25,299.52 715.00,299.15 715.75,299.40 716.00,299.49 716.00,394.0 67.00,394.0" fill="#8333db"/>
<polygon points="67.00,312.44 67.75,312.01 68.50,311.58 69.25,311.14 70.00,311.19 70.75,311.24 71.50,311.29 72.25,311.01 73.00,310.74 73.75,310.46 74.50,310.24 75.25,310.01 76.00,309.79 76.75,309.88 77.50,309.98 78.25,310.07 79.00,310.01 79.75,309.96 80.50,309.90 81.25,309.40 82.00,308.91 82.75,308.41 83.50,308.60 84.25,308.70 85.00,308.80 85.75,308.18 86.50,307.56 87.25,306.93 88.00,306.49 88.75,306.05 89.50,305.61 90.25,305.25 91.00,304.88 91.75,304.52 92.50,304.10 93.25,303.69 94.00,303.27 94.75,302.96 95.50,302.40 96.25,301.72 97.00,301.03 97.75,300.34 98.50,299.66 99.25,298.67 100.00,297.68 100.75,297.63 101.50,298.06 102.25,298.50 103.00,298.93 103.75,299.19 104.50,299.21 105.25,299.09 106.00,298.70 106.75,298.30 107.50,297.90 108.25,297.32 109.00,296.42 109.75,295.53 110.50,295.33 111.25,295.13 112.00,294.92 112.75,294.42 113.50,293.91 114.25,293.40 115.00,293.27 115.75,293.15 116.50,293.02 117.25,292.94 118.00,292.86 118.75,292.78 119.50,292.15 120.25,291.43 121.00,290.56 121.75,289.89 122.50,289.21 123.25,288.54 124.00,288.44 124.75,288.35 125.50,288.15 126.25,286.95 127.00,285.74 127.75,284.54 128.50,284.25 129.25,283.97 130.00,283.68 130.75,282.85 131.50,282.01 132.25,281.18 133.00,280.42 133.75,280.22 134.50,280.02 135.25,280.02 136.00,280.01 136.75,280.01 137.50,279.89 138.25,280.03 139.00,280.17 139.75,279.66 140.50,279.15 141.25,278.64 142.00,277.73 142.75,276.82 143.50,276.16 144.25,275.90 145.00,275.64 145.75,275.37 146.50,274.79 147.25,274.19 148.00,273.51 148.75,273.61 149.50,273.70 150.25,273.80 151.00,273.33 151.75,273.05 152.50,272.77 153.25,272.15 154.00,271.53 154.75,270.91 155.50,270.96 156.25,271.10 157.00,271.23 157.75,271.16 158.50,271.08 159.25,271.00 160.00,271.01 160.75,271.02 161.50,271.03 162.25,270.81 163.00,270.59 163.75,270.38 164.50,270.22 165.25,269.98 166.00,269.73 166.75,269.30 167.50,268.86 168.25,268.42 169.00,268.56 169.75,268.71 170.50,268.85 171.25,268.64 172.00,268.43 172.75,268.22 173.50,267.83 174.25,267.43 175.00,267.03 175.75,266.66 176.50,266.28 177.25,266.05 178.00,266.47 178.75,266.88 179.50,267.30 180.25,266.81 181.00,266.32 181.75,265.83 182.50,265.74 183.25,265.65 184.00,265.56 184.75,265.61 185.50,265.65 186.25,265.69 187.00,265.56 187.75,265.43 188.50,265.30 189.25,265.28 190.00,265.27 190.75,265.25 191.50,265.65 192.25,266.29 193.00,266.93 193.75,267.88 194.50,268.83 195.25,269.78 196.00,270.47 196.75,271.16 197.50,271.00 198.25,270.36 199.00,269.72 199.75,269.08 200.50,268.59 201.25,268.11 202.00,267.62 202.75,266.79 203.50,265.96 204.25,265.32 205.00,265.32 205.75,265.32 206.50,265.32 207.25,265.33 208.00,265.34 208.75,265.35 209.50,265.26 210.25,265.18 211.00,265.09 211.75,265.02 212.50,264.94 213.25,264.87 214.00,264.60 214.75,264.33 215.50,264.06 216.25,264.26 217.00,264.45 217.75,264.65 218.50,264.77 219.25,264.92 220.00,265.08 220.75,265.01 221.50,264.94 222.25,264.87 223.00,265.41 223.75,265.94 224.50,266.47 225.25,266.38 226.00,266.29 226.75,266.19 227.50,266.20 228.25,266.21 229.00,266.21 229.75,266.40 230.50,266.58 231.25,266.76 232.00,266.66 232.75,266.55 233.50,266.45 234.25,266.19 235.00,265.94 235.75,265.68 236.50,265.78 237.25,265.89 238.00,265.99 238.75,266.04 239.50,266.09 240.25,266.14 241.00,265.90 241.75,265.65 242.50,265.41 243.25,265.04 244.00,264.67 244.75,264.30 245.50,264.80 246.25,265.30 247.00,265.81 247.75,265.62 248.50,265.42 249.25,265.23 250.00,265.29 250.75,265.36 251.50,265.42 252.25,265.37 253.00,265.32 253.75,265.27 254.50,265.17 255.25,265.08 256.00,264.98 256.75,264.80 257.50,264.62 258.25,264.44 259.00,264.42 259.75,264.40 260.50,264.38 261.25,264.77 262.00,265.16 262.75,265.55 263.50,265.44 264.25,265.34 265.00,265.23 265.75,265.15 266.50,265.06 267.25,264.97 268.00,264.96 268.75,264.95 269.50,264.94 270.25,264.84 271.00,264.74 271.75,264.64 272.50,264.57 273.25,264.52 274.00,264.48 274.75,264.47 275.50,264.47 276.25,264.47 277.00,264.27 277.75,264.08 278.50,263.88 279.25,264.15 280.00,264.42 280.75,264.69 281.50,265.16 282.25,265.62 283.00,266.09 283.75,265.97 284.50,265.85 285.25,265.74 286.00,265.66 286.75,265.53 287.50,265.41 288.25,265.32 289.00,265.23 289.75,265.14 290.50,265.09 291.25,265.04 292.00,264.99 292.75,265.17 293.50,265.34 294.25,265.52 295.00,265.35 295.75,265.18 296.50,265.00 297.25,264.81 298.00,264.61 298.75,264.42 299.50,264.51 300.25,264.61 301.00,264.71 301.75,264.79 302.50,264.87 303.25,264.95 304.00,265.10 304.75,265.24 305.50,265.38 306.25,265.25 307.00,265.12 307.75,264.99 308.50,265.25 309.25,265.51 310.00,265.77 310.75,265.46 311.50,265.14 312.25,264.82 313.00,264.73 313.75,264.63 314.50,264.54 315.25,264.66 316.00,264.79 316.75,264.92 317.50,264.80 318.25,264.68 319.00,264.56 319.75,264.65 320.50,264.74 321.25,264.82 322.00,264.56 322.75,264.31 323.50,264.05 324.25,264.05 325.00,264.05 325.75,264.05 326.50,264.35 327.25,264.69 328.00,265.03 328.75,264.90 329.50,264.77 330.25,264.64 331.00,264.83 331.75,265.03 332.50,265.23 333.25,265.52 334.00,265.81 334.75,266.11 335.50,266.08 336.25,266.04 337.00,266.01 337.75,266.09 338.50,266.16 339.25,266.23 340.00,266.33 340.75,266.36 341.50,266.38 342.25,266.30 343.00,266.21 343.75,266.12 344.50,266.25 345.25,266.38 346.00,266.52 346.75,266.74 347.50,266.96 348.25,267.18 349.00,267.08 349.75,266.97 350.50,266.86 351.25,266.86 352.00,266.86 352.75,266.86 353.50,267.04 354.25,267.22 355.00,267.39 355.75,267.03 356.50,266.68 357.25,266.32 358.00,266.40 358.75,266.48 359.50,266.56 360.25,266.53 361.00,266.51 361.75,266.48 362.50,266.61 363.25,266.74 364.00,266.88 364.75,266.88 365.50,266.89 366.25,266.89 367.00,266.71 367.75,266.53 368.50,266.35 369.25,266.33 370.00,266.31 370.75,266.29 371.50,266.43 372.25,266.57 373.00,266.71 373.75,266.67 374.50,266.63 375.25,266.59 376.00,266.47 376.75,266.34 377.50,266.22 378.25,266.53 379.00,266.84 379.75,267.16 380.50,267.01 381.25,266.86 382.00,266.71 382.75,267.00 383.50,267.30 384.25,267.59 385.00,267.39 385.75,267.19 386.50,266.99 387.25,266.98 388.00,266.97 388.75,266.97 389.50,266.96 390.25,266.95 391.00,266.94 391.75,266.92 392.50,266.91 393.25,266.90 394.00,267.05 394.75,267.26 395.50,267.47 396.25,267.44 397.00,267.41 397.75,267.38 398.50,267.50 399.25,267.62 400.00,267.74 400.75,267.59 401.50,267.43 402.25,267.28 403.00,267.52 403.75,267.76 404.50,268.00 405.25,267.95 406.00,267.89 406.75,267.84 407.50,268.27 408.25,268.72 409.00,269.18 409.75,269.17 410.50,269.16 411.25,269.15 412.00,269.46 412.75,269.77 413.50,270.08 414.25,270.22 415.00,270.36 415.75,270.50 416.50,270.35 417.25,270.20 418.00,270.05 418.75,270.44 419.50,270.84 420.25,271.23 421.00,271.48 421.75,271.67 422.50,271.61 423.25,271.08 424.00,270.55 424.75,270.02 425.50,269.81 426.25,269.60 427.00,269.39 427.75,269.35 428.50,269.31 429.25,269.26 430.00,269.34 430.75,269.43 431.50,269.51 432.25,268.88 433.00,268.25 433.75,267.63 434.50,267.85 435.25,268.14 436.00,268.43 436.75,268.66 437.50,268.90 438.25,269.14 439.00,269.07 439.75,269.00 440.50,268.94 441.25,268.73 442.00,268.52 442.75,268.31 443.50,268.37 444.25,268.44 445.00,268.50 445.75,268.63 446.50,268.76 447.25,268.89 448.00,268.91 448.75,268.93 449.50,268.91 450.25,269.00 451.00,269.09 451.75,269.18 452.50,269.06 453.25,268.94 454.00,268.82 454.75,268.98 455.50,269.14 456.25,269.30 457.00,269.22 457.75,269.13 458.50,269.05 459.25,269.18 460.00,269.30 460.75,269.43 461.50,269.46 462.25,269.48 463.00,269.50 463.75,269.35 464.50,269.20 465.25,269.04 466.00,268.87 466.75,268.70 467.50,268.53 468.25,268.72 469.00,268.90 469.75,269.09 470.50,268.99 471.25,268.90 472.00,268.80 472.75,268.84 473.50,268.89 474.25,268.93 475.00,268.83 475.75,268.73 476.50,268.63 477.25,268.79 478.00,268.94 478.75,269.10 479.50,268.82 480.25,268.54 481.00,268.27 481.75,268.18 482.50,268.09 483.25,268.00 484.00,268.07 484.75,268.13 485.50,268.20 486.25,268.22 487.00,268.24 487.75,268.27 488.50,268.25 489.25,268.23 490.00,268.21 490.75,268.21 491.50,268.21 492.25,268.22 493.00,268.25 493.75,268.28 494.50,268.32 495.25,268.14 496.00,267.96 496.75,267.78 497.50,267.86 498.25,267.94 499.00,268.02 499.75,267.86 500.50,267.69 501.25,267.53 502.00,267.22 502.75,266.90 503.50,266.59 504.25,267.02 505.00,267.46 505.75,267.89 506.50,267.60 507.25,267.41 508.00,267.22 508.75,267.85 509.50,268.48 510.25,269.11 511.00,269.41 511.75,269.72 512.50,270.02 513.25,270.26 514.00,270.49 514.75,270.72 515.50,270.72 516.25,270.57 517.00,270.12 517.75,270.41 518.50,270.69 519.25,270.98 520.00,270.55 520.75,270.12 521.50,269.69 522.25,269.41 523.00,269.13 523.75,268.85 524.50,268.73 525.25,268.66 526.00,268.70 526.75,269.03 527.50,269.36 528.25,269.69 529.00,269.67 529.75,269.65 530.50,269.64 531.25,269.59 532.00,269.54 532.75,269.50 533.50,269.25 534.25,269.01 535.00,268.76 535.75,268.94 536.50,269.11 537.25,269.28 538.00,269.28 538.75,269.27 539.50,269.27 540.25,269.08 541.00,268.89 541.75,268.70 542.50,269.06 543.25,269.43 544.00,269.81 544.75,269.70 545.50,269.59 546.25,269.48 547.00,269.59 547.75,269.71 548.50,269.82 549.25,269.87 550.00,269.93 550.75,270.17 551.50,270.25 552.25,270.34 553.00,270.42 553.75,270.88 554.50,271.35 555.25,271.83 556.00,272.15 556.75,272.47 557.50,272.80 558.25,273.06 559.00,273.34 559.75,273.62 560.50,273.76 561.25,273.90 562.00,274.05 562.75,274.44 563.50,274.85 564.25,275.32 565.00,275.49 565.75,275.66 566.50,275.83 567.25,276.14 568.00,276.45 568.75,276.76 569.50,277.24 570.25,277.73 571.00,278.21 571.75,278.46 572.50,278.71 573.25,278.96 574.00,279.25 574.75,279.49 575.50,279.72 576.25,279.75 577.00,279.78 577.75,279.82 578.50,280.14 579.25,280.47 580.00,280.80 580.75,281.20 581.50,281.93 582.25,282.66 583.00,283.06 583.75,283.05 584.50,282.79 585.25,282.91 586.00,283.04 586.75,283.17 587.50,283.05 588.25,282.94 589.00,282.93 589.75,283.01 590.50,283.08 591.25,283.16 592.00,283.47 592.75,283.79 593.50,284.10 594.25,284.45 595.00,284.74 595.75,285.03 596.50,285.11 597.25,285.20 598.00,285.28 598.75,285.05 599.50,284.81 600.25,284.55 601.00,284.68 601.75,284.81 602.50,284.93 603.25,285.10 604.00,285.28 604.75,285.46 605.50,285.73 606.25,285.99 607.00,286.26 607.75,286.31 608.50,286.35 609.25,286.40 610.00,286.96 610.75,287.90 611.50,288.83 612.25,289.32 613.00,289.40 613.75,289.28 614.50,289.55 615.25,289.82 616.00,290.08 616.75,289.80 617.50,289.51 618.25,289.22 619.00,289.79 619.75,290.37 620.50,290.94 621.25,290.66 622.00,290.38 622.75,290.10 623.50,290.12 624.25,290.20 625.00,290.38 625.75,290.50 626.50,290.61 627.25,290.73 628.00,291.08 628.75,291.42 629.50,291.76 630.25,292.00 631.00,292.24 631.75,292.48 632.50,292.79 633.25,293.10 634.00,293.43 634.75,293.64 635.50,293.86 636.25,294.07 637.00,294.34 637.75,294.60 638.50,294.87 639.25,295.52 640.00,296.16 640.75,296.81 641.50,296.94 642.25,297.07 643.00,297.21 643.75,297.53 644.50,297.86 645.25,298.18 646.00,298.68 646.75,299.17 647.50,299.67 648.25,300.05 649.00,300.43 649.75,300.81 650.50,301.33 651.25,301.84 652.00,302.36 652.75,302.29 653.50,302.22 654.25,302.15 655.00,302.05 655.75,301.95 656.50,301.85 657.25,302.16 658.00,302.47 658.75,302.78 659.50,303.01 660.25,303.24 661.00,303.48 661.75,303.59 662.50,303.39 663.25,303.11 664.00,302.78 664.75,302.45 665.50,302.11 666.25,301.73 667.00,301.58 667.75,302.03 668.50,302.57 669.25,303.11 670.00,303.65 670.75,304.05 671.50,304.38 672.25,304.71 673.00,304.77 673.75,304.84 674.50,304.90 675.25,304.99 676.00,305.08 676.75,305.17 677.50,305.18 678.25,305.18 679.00,305.19 679.75,305.00 680.50,304.82 681.25,304.63 682.00,305.20 682.75,305.77 683.50,306.33 684.25,306.27 685.00,306.20 685.75,306.13 686.50,306.05 687.25,305.98 688.00,305.90 688.75,305.81 689.50,305.61 690.25,305.41 691.00,305.01 691.75,304.61 692.50,304.21 693.25,304.38 694.00,304.54 694.75,304.70 695.50,304.37 696.25,304.04 697.00,303.72 697.75,303.57 698.50,303.42 699.25,303.27 700.00,303.19 700.75,303.12 701.50,303.04 702.25,303.27 703.00,303.50 703.75,303.73 704.50,303.61 705.25,303.42 706.00,303.19 706.75,302.94 707.50,302.69 708.25,302.44 709.00,302.45 709.75,302.45 710.50,302.46 711.25,302.16 712.00,301.86 712.75,301.56 713.50,301.26 714.25,300.97 715.00,300.68 715.75,300.70 716.00,300.71 716.00,394.0 67.00,394.0" fill="#cd9a1c"/>
<polygon points="67.00,335.91 67.75,335.52 68.50,335.14 69.25,334.75 70.00,334.69 70.75,334.62 71.50,334.55 72.25,334.47 73.00,334.39 73.75,334.31 74.50,334.04 75.25,333.77 76.00,333.50 76.75,333.47 77.50,333.43 78.25,333.40 79.00,333.28 79.75,333.15 80.50,333.02 81.25,332.68 82.00,332.35 82.75,332.01 83.50,332.12 84.25,332.19 85.00,332.26 85.75,331.94 86.50,331.63 87.25,331.31 88.00,330.90 88.75,330.49 89.50,330.07 90.25,329.86 91.00,329.65 91.75,329.44 92.50,329.26 93.25,329.07 94.00,328.89 94.75,328.53 95.50,328.17 96.25,327.66 97.00,326.93 97.75,326.20 98.50,325.47 99.25,324.59 100.00,323.71 100.75,322.87 101.50,323.05 102.25,323.23 103.00,323.40 103.75,323.29 104.50,323.17 105.25,323.05 106.00,323.01 106.75,322.96 107.50,322.91 108.25,322.63 109.00,322.35 109.75,322.07 110.50,322.27 111.25,322.40 112.00,322.54 112.75,322.11 113.50,321.69 114.25,321.26 115.00,320.95 115.75,320.64 116.50,320.33 117.25,320.37 118.00,320.42 118.75,320.46 119.50,319.97 120.25,319.47 121.00,318.98 121.75,318.56 122.50,318.15 123.25,317.50 124.00,317.15 124.75,316.80 125.50,316.45 126.25,315.74 127.00,315.04 127.75,314.34 128.50,314.28 129.25,314.23 130.00,314.18 130.75,313.55 131.50,312.93 132.25,312.30 133.00,311.81 133.75,311.40 134.50,310.98 135.25,310.83 136.00,310.67 136.75,310.51 137.50,309.81 138.25,309.11 139.00,308.41 139.75,308.29 140.50,308.18 141.25,308.07 142.00,307.38 142.75,306.69 143.50,306.01 144.25,305.80 145.00,305.59 145.75,305.39 146.50,304.95 147.25,304.48 148.00,303.94 148.75,303.79 149.50,303.64 150.25,303.50 151.00,303.06 151.75,302.78 152.50,302.50 153.25,301.93 154.00,301.36 154.75,300.79 155.50,300.82 156.25,300.96 157.00,301.10 157.75,300.98 158.50,300.86 159.25,300.74 160.00,300.82 160.75,300.91 161.50,301.00 162.25,300.85 163.00,300.69 163.75,300.53 164.50,300.20 165.25,299.77 166.00,299.34 166.75,299.01 167.50,298.69 168.25,298.36 169.00,298.30 169.75,298.25 170.50,298.20 171.25,298.10 172.00,298.01 172.75,297.92 173.50,297.36 174.25,296.81 175.00,296.26 175.75,295.84 176.50,295.43 177.25,295.21 178.00,295.50 178.75,295.80 179.50,296.09 180.25,295.89 181.00,295.69 181.75,295.49 182.50,295.47 183.25,295.45 184.00,295.44 184.75,295.45 185.50,295.47 186.25,295.49 187.00,295.44 187.75,295.40 188.50,295.35 189.25,295.33 190.00,295.31 190.75,295.29 191.50,295.45 192.25,295.77 193.00,296.08 193.75,296.77 194.50,297.45 195.25,298.13 196.00,298.51 196.75,298.89 197.50,298.65 198.25,298.33 199.00,298.02 199.75,297.70 200.50,297.04 201.25,296.38 202.00,295.72 202.75,295.07 203.50,294.41 204.25,293.93 205.00,294.19 205.75,294.45 206.50,294.71 207.25,294.97 208.00,295.22 208.75,295.48 209.50,295.28 210.25,295.07 211.00,294.86 211.75,294.84 212.50,294.83 213.25,294.81 214.00,294.81 214.75,294.82 215.50,294.83 216.25,294.89 217.00,294.95 217.75,295.01 218.50,295.11 219.25,295.20 220.00,295.29 220.75,295.19 221.50,295.08 222.25,294.98 223.00,295.30 223.75,295.62 224.50,295.94 225.25,295.73 226.00,295.51 226.75,295.30 227.50,295.35 228.25,295.39 229.00,295.44 229.75,295.60 230.50,295.76 231.25,295.92 232.00,295.93 232.75,295.93 233.50,295.94 234.25,295.74 235.00,295.53 235.75,295.32 236.50,295.39 237.25,295.45 238.00,295.52 238.75,295.57 239.50,295.62 240.25,295.66 241.00,295.55 241.75,295.44 242.50,295.33 243.25,295.14 244.00,294.95 244.75,294.76 245.50,295.02 246.25,295.26 247.00,295.49 247.75,295.47 248.50,295.45 249.25,295.42 250.00,295.31 250.75,295.20 251.50,295.09 252.25,294.88 253.00,294.67 253.75,294.45 254.50,294.49 255.25,294.52 256.00,294.56 256.75,294.46 257.50,294.36 258.25,294.25 259.00,294.24 259.75,294.22 260.50,294.20 261.25,294.34 262.00,294.48 262.75,294.62 263.50,294.59 264.25,294.57 265.00,294.54 265.75,294.39 266.50,294.23 267.25,294.08 268.00,294.01 268.75,293.94 269.50,293.87 270.25,293.84 271.00,293.80 271.75,293.76 272.50,293.66 273.25,293.58 274.00,293.50 274.75,293.49 275.50,293.48 276.25,293.47 277.00,293.40 277.75,293.33 278.50,293.26 279.25,293.33 280.00,293.41 280.75,293.48 281.50,293.76 282.25,294.04 283.00,294.31 283.75,294.15 284.50,293.98 285.25,293.81 286.00,293.67 286.75,293.52 287.50,293.38 288.25,293.36 289.00,293.35 289.75,293.33 290.50,293.28 291.25,293.24 292.00,293.19 292.75,293.34 293.50,293.49 294.25,293.63 295.00,293.64 295.75,293.64 296.50,293.64 297.25,293.42 298.00,293.20 298.75,292.98 299.50,293.23 300.25,293.48 301.00,293.73 301.75,293.63 302.50,293.53 303.25,293.42 304.00,293.68 304.75,293.94 305.50,294.21 306.25,294.08 307.00,293.95 307.75,293.82 308.50,294.03 309.25,294.23 310.00,294.44 310.75,294.21 311.50,293.97 312.25,293.73 313.00,293.77 313.75,293.81 314.50,293.86 315.25,293.95 316.00,294.04 316.75,294.13 317.50,294.25 318.25,294.36 319.00,294.47 319.75,294.44 320.50,294.40 321.25,294.36 322.00,294.17 322.75,293.98 323.50,293.78 324.25,293.97 325.00,294.17 325.75,294.36 326.50,294.35 327.25,294.33 328.00,294.31 328.75,294.25 329.50,294.20 330.25,294.15 331.00,294.12 331.75,294.09 332.50,294.07 333.25,294.35 334.00,294.64 334.75,294.93 335.50,294.67 336.25,294.42 337.00,294.16 337.75,294.10 338.50,294.05 339.25,294.00 340.00,294.17 340.75,294.35 341.50,294.53 342.25,294.47 343.00,294.41 343.75,294.35 344.50,294.32 345.25,294.30 346.00,294.27 346.75,294.38 347.50,294.48 348.25,294.58 349.00,294.55 349.75,294.51 350.50,294.48 351.25,294.46 352.00,294.45 352.75,294.43 353.50,294.52 354.25,294.63 355.00,294.74 355.75,294.69 356.50,294.64 357.25,294.59 358.00,294.52 358.75,294.44 359.50,294.37 360.25,294.43 361.00,294.49 361.75,294.56 362.50,294.57 363.25,294.59 364.00,294.60 364.75,294.72 365.50,294.84 366.25,294.96 367.00,294.84 367.75,294.72 368.50,294.60 369.25,294.54 370.00,294.49 370.75,294.43 371.50,294.69 372.25,294.96 373.00,295.22 373.75,295.08 374.50,294.95 375.25,294.81 376.00,294.77 376.75,294.73 377.50,294.69 378.25,295.00 379.00,295.31 379.75,295.62 380.50,295.53 381.25,295.45 382.00,295.36 382.75,295.55 383.50,295.73 384.25,295.92 385.00,295.84 385.75,295.76 386.50,295.68 387.25,295.65 388.00,295.62 388.75,295.60 389.50,295.62 390.25,295.65 391.00,295.68 391.75,295.81 392.50,295.94 393.25,296.07 394.00,296.14 394.75,296.22 395.50,296.29 396.25,296.27 397.00,296.25 397.75,296.23 398.50,296.35 399.25,296.46 400.00,296.57 400.75,296.46 401.50,296.36 402.25,296.25 403.00,296.49 403.75,296.72 404.50,296.95 405.25,296.78 406.00,296.61 406.75,296.44 407.50,296.74 408.25,297.08 409.00,297.41 409.75,297.66 410.50,297.92 411.25,298.17 412.00,298.36 412.75,298.55 413.50,298.74 414.25,298.96 415.00,299.18 415.75,299.40 416.50,299.15 417.25,298.90 418.00,298.65 418.75,299.07 419.50,299.49 420.25,299.91 421.00,300.11 421.75,300.25 422.50,300.13 423.25,299.93 424.00,299.74 424.75,299.54 425.50,299.14 426.25,298.74 427.00,298.35 427.75,298.34 428.50,298.33 429.25,298.32 430.00,298.33 430.75,298.33 431.50,298.33 432.25,297.76 433.00,297.19 433.75,296.62 434.50,296.80 435.25,297.03 436.00,297.27 436.75,297.35 437.50,297.42 438.25,297.50 439.00,297.28 439.75,297.07 440.50,296.85 441.25,297.00 442.00,297.16 442.75,297.31 443.50,297.11 444.25,296.91 445.00,296.71 445.75,296.75 446.50,296.78 447.25,296.81 448.00,296.81 448.75,296.81 449.50,296.81 450.25,296.93 451.00,297.05 451.75,297.17 452.50,297.14 453.25,297.10 454.00,297.07 454.75,297.19 455.50,297.32 456.25,297.44 457.00,297.22 457.75,296.99 458.50,296.76 459.25,296.86 460.00,296.96 460.75,297.05 461.50,297.15 462.25,297.24 463.00,297.33 463.75,297.23 464.50,297.14 465.25,297.05 466.00,296.78 466.75,296.51 467.50,296.24 468.25,296.43 469.00,296.63 469.75,296.82 470.50,296.64 471.25,296.46 472.00,296.28 472.75,296.34 473.50,296.39 474.25,296.45 475.00,296.40 475.75,296.34 476.50,296.29 477.25,296.36 478.00,296.42 478.75,296.49 479.50,296.31 480.25,296.13 481.00,295.96 481.75,295.68 482.50,295.39 483.25,295.11 484.00,295.13 484.75,295.14 485.50,295.15 486.25,295.36 487.00,295.57 487.75,295.78 488.50,295.63 489.25,295.48 490.00,295.34 490.75,295.48 491.50,295.63 492.25,295.77 493.00,295.64 493.75,295.51 494.50,295.38 495.25,295.23 496.00,295.09 496.75,294.94 497.50,295.13 498.25,295.33 499.00,295.52 499.75,295.27 500.50,295.02 501.25,294.77 502.00,294.59 502.75,294.42 503.50,294.36 504.25,295.01 505.00,295.66 505.75,296.31 506.50,295.99 507.25,295.67 508.00,295.35 508.75,295.81 509.50,296.27 510.25,296.73 511.00,296.93 511.75,297.12 512.50,297.31 513.25,297.37 514.00,297.43 514.75,297.49 515.50,297.43 516.25,297.30 517.00,297.06 517.75,297.36 518.50,297.65 519.25,297.95 520.00,297.63 520.75,297.31 521.50,296.99 522.25,296.97 523.00,296.96 523.75,296.94 524.50,297.03 525.25,297.13 526.00,297.22 526.75,297.33 527.50,297.44 528.25,297.55 529.00,297.47 529.75,297.38 530.50,297.30 531.25,297.33 532.00,297.37 532.75,297.40 533.50,297.25 534.25,297.12 535.00,296.98 535.75,297.03 536.50,297.08 537.25,297.13 538.00,297.03 538.75,296.93 539.50,296.84 540.25,296.95 541.00,297.07 541.75,297.18 542.50,297.39 543.25,297.64 544.00,297.89 544.75,297.93 545.50,297.96 546.25,298.00 547.00,298.24 547.75,298.47 548.50,298.71 549.25,298.72 550.00,298.74 550.75,298.76 551.50,298.90 552.25,299.10 553.00,299.42 553.75,299.83 554.50,300.23 555.25,300.64 556.00,300.94 556.75,301.24 557.50,301.54 558.25,301.96 559.00,302.38 559.75,302.80 560.50,303.04 561.25,303.26 562.00,303.48 562.75,303.93 563.50,304.38 564.25,304.84 565.00,304.87 565.75,304.90 566.50,304.93 567.25,305.20 568.00,305.46 568.75,305.73 569.50,305.93 570.25,306.14 571.00,306.35 571.75,306.78 572.50,307.22 573.25,307.65 574.00,308.04 574.75,308.42 575.50,308.81 576.25,308.95 577.00,309.08 577.75,309.22 578.50,309.61 579.25,309.94 580.00,310.14 580.75,310.34 581.50,310.55 582.25,310.76 583.00,310.77 583.75,310.78 584.50,310.80 585.25,310.86 586.00,310.93 586.75,311.00 587.50,311.29 588.25,311.59 589.00,311.88 589.75,311.89 590.50,311.90 591.25,311.91 592.00,312.06 592.75,312.21 593.50,312.36 594.25,312.57 595.00,312.78 595.75,312.98 596.50,313.14 597.25,313.33 598.00,313.52 598.75,313.53 599.50,313.54 600.25,313.55 601.00,313.72 601.75,313.88 602.50,314.05 603.25,314.34 604.00,314.63 604.75,314.91 605.50,315.05 606.25,315.19 607.00,315.32 607.75,315.29 608.50,315.26 609.25,315.23 610.00,315.79 610.75,316.35 611.50,316.92 612.25,316.95 613.00,316.93 613.75,316.89 614.50,317.09 615.25,317.29 616.00,317.48 616.75,317.36 617.50,317.25 618.25,317.13 619.00,317.53 619.75,317.94 620.50,318.35 621.25,318.23 622.00,318.12 622.75,318.00 623.50,318.17 624.25,318.39 625.00,318.69 625.75,318.79 626.50,318.88 627.25,318.98 628.00,319.38 628.75,319.78 629.50,320.17 630.25,320.42 631.00,320.66 631.75,320.90 632.50,321.16 633.25,321.41 634.00,321.67 634.75,322.05 635.50,322.43 636.25,322.80 637.00,323.06 637.75,323.32 638.50,323.57 639.25,323.98 640.00,324.40 640.75,324.81 641.50,324.94 642.25,325.04 643.00,325.02 643.75,325.12 644.50,325.21 645.25,325.31 646.00,325.59 646.75,325.86 647.50,326.14 648.25,326.38 649.00,326.61 649.75,326.85 650.50,327.08 651.25,327.32 652.00,327.55 652.75,327.52 653.50,327.49 654.25,327.46 655.00,327.17 655.75,326.89 656.50,326.60 657.25,326.88 658.00,327.16 658.75,327.44 659.50,327.59 660.25,327.75 661.00,327.90 661.75,327.75 662.50,327.57 663.25,327.37 664.00,327.28 664.75,327.18 665.50,327.08 666.25,327.15 667.00,327.23 667.75,327.30 668.50,327.17 669.25,327.05 670.00,326.92 670.75,327.06 671.50,327.19 672.25,327.33 673.00,327.25 673.75,327.17 674.50,327.10 675.25,327.26 676.00,327.43 676.75,327.60 677.50,327.49 678.25,327.39 679.00,327.28 679.75,327.13 680.50,326.99 681.25,326.84 682.00,327.00 682.75,327.16 683.50,327.32 684.25,327.36 685.00,327.40 685.75,327.44 686.50,327.26 687.25,327.08 688.00,326.90 688.75,326.77 689.50,326.54 690.25,326.32 691.00,325.85 691.75,325.38 692.50,324.91 693.25,325.06 694.00,325.20 694.75,325.34 695.50,325.11 696.25,324.89 697.00,324.68 697.75,324.46 698.50,324.23 699.25,324.01 700.00,324.02 700.75,324.02 701.50,324.02 702.25,324.17 703.00,324.32 703.75,324.47 704.50,324.55 705.25,324.62 706.00,324.69 706.75,324.54 707.50,324.40 708.25,324.25 709.00,324.27 709.75,324.29 710.50,324.31 711.25,324.08 712.00,323.84 712.75,323.60 713.50,323.53 714.25,323.45 715.00,323.38 715.75,323.60 716.00,323.67 716.00,394.0 67.00,394.0" fill="#7e7e7e"/>
</g>
<polyline points="67.00,112.20 67.75,112.20 68.50,112.20 69.25,112.20 70.00,113.72 70.75,116.01 71.50,118.30 72.25,118.13 73.00,117.59 73.75,117.05 74.50,116.51 75.25,115.97 76.00,115.43 76.75,114.89 77.50,114.34 78.25,114.42 79.00,114.73 79.75,115.03 80.50,115.34 81.25,115.64 82.00,115.94 82.75,116.25 83.50,116.55 84.25,116.86 85.00,116.68 85.75,116.08 86.50,115.47 87.25,114.87 88.00,114.27 88.75,113.67 89.50,113.06 90.25,112.46 91.00,111.86 91.75,111.26 92.50,110.65 93.25,110.05 94.00,109.45 94.75,108.85 95.50,108.24 96.25,107.64 97.00,109.46 97.75,111.44 98.50,112.80 99.25,112.44 100.00,112.08 100.75,111.72 101.50,111.36 102.25,111.00 103.00,110.64 103.75,110.27 104.50,109.91 105.25,109.55 106.00,109.19 106.75,108.83 107.50,108.47 108.25,108.11 109.00,107.74 109.75,107.92 110.50,108.45 111.25,108.98 112.00,109.51 112.75,110.05 113.50,110.58 114.25,111.11 115.00,111.43 115.75,111.16 116.50,110.89 117.25,110.61 118.00,110.34 118.75,110.07 119.50,109.80 120.25,109.53 121.00,109.26 121.75,108.99 122.50,108.72 123.25,109.03 124.00,111.70 124.75,114.36 125.50,115.28 126.25,114.67 127.00,114.06 127.75,113.46 128.50,112.85 129.25,112.24 130.00,111.64 130.75,111.03 131.50,110.42 132.25,109.81 133.00,109.21 133.75,108.60 134.50,107.99 135.25,107.39 136.00,106.78 136.75,109.25 137.50,112.20 138.25,115.15 139.00,117.62 139.75,116.99 140.50,116.36 141.25,115.73 142.00,115.11 142.75,114.48 143.50,113.85 144.25,113.23 145.00,112.60 145.75,111.97 146.50,111.34 147.25,110.72 148.00,110.09 148.75,109.46 149.50,108.84 150.25,108.21 151.00,109.64 151.75,112.11 152.50,114.57 153.25,114.63 154.00,114.32 154.75,114.00 155.50,113.69 156.25,113.38 157.00,113.07 157.75,112.75 158.50,112.44 159.25,112.13 160.00,111.82 160.75,111.50 161.50,111.19 162.25,110.88 163.00,110.57 163.75,111.65 164.50,114.33 165.25,117.01 166.00,119.69 166.75,119.88 167.50,119.18 168.25,118.48 169.00,117.78 169.75,117.08 170.50,116.37 171.25,115.67 172.00,114.97 172.75,114.27 173.50,113.56 174.25,112.86 175.00,112.16 175.75,111.46 176.50,110.76 177.25,110.32 178.00,113.57 178.75,116.82 179.50,120.07 180.25,121.47 181.00,120.77 181.75,120.08 182.50,119.38 183.25,118.68 184.00,117.98 184.75,117.28 185.50,116.58 186.25,115.88 187.00,115.18 187.75,114.48 188.50,113.78 189.25,113.09 190.00,112.39 190.75,114.02 191.50,116.51 192.25,118.99 193.00,121.48 193.75,123.83 194.50,124.30 195.25,124.78 196.00,125.25 196.75,125.28 197.50,124.82 198.25,124.36 199.00,123.89 199.75,123.43 200.50,122.96 201.25,122.50 202.00,122.04 202.75,121.57 203.50,121.11 204.25,121.85 205.00,124.99 205.75,128.12 206.50,131.26 207.25,131.95 208.00,131.75 208.75,131.54 209.50,131.34 210.25,131.13 211.00,130.93 211.75,130.73 212.50,130.52 213.25,130.32 214.00,130.12 214.75,129.91 215.50,129.71 216.25,129.50 217.00,129.30 217.75,132.19 218.50,135.08 219.25,137.97 220.00,140.86 220.75,142.28 221.50,142.04 222.25,141.79 223.00,141.54 223.75,141.29 224.50,141.05 225.25,140.80 226.00,140.55 226.75,140.30 227.50,140.06 228.25,139.81 229.00,139.56 229.75,139.31 230.50,139.07 231.25,140.75 232.00,143.13 232.75,145.52 233.50,147.90 234.25,148.05 235.00,148.21 235.75,148.36 236.50,148.52 237.25,148.56 238.00,148.49 238.75,148.41 239.50,148.34 240.25,148.26 241.00,148.18 241.75,148.11 242.50,148.03 243.25,147.96 244.00,148.10 244.75,148.85 245.50,149.60 246.25,150.35 247.00,151.10 247.75,151.85 248.50,152.41 249.25,152.92 250.00,153.43 250.75,153.95 251.50,154.46 252.25,154.69 253.00,154.37 253.75,154.05 254.50,153.73 255.25,153.41 256.00,153.09 256.75,153.12 257.50,153.30 258.25,153.47 259.00,154.27 259.75,155.24 260.50,156.20 261.25,157.16 262.00,158.05 262.75,158.40 263.50,158.75 264.25,159.11 265.00,159.46 265.75,159.81 266.50,160.16 267.25,160.52 268.00,160.87 268.75,161.22 269.50,161.45 270.25,161.68 271.00,161.91 271.75,162.14 272.50,162.37 273.25,162.61 274.00,162.84 274.75,163.16 275.50,163.52 276.25,163.88 277.00,164.23 277.75,164.59 278.50,164.95 279.25,165.34 280.00,165.72 280.75,166.10 281.50,166.49 282.25,166.87 283.00,167.25 283.75,167.62 284.50,168.00 285.25,168.38 286.00,168.75 286.75,169.12 287.50,169.50 288.25,169.88 289.00,170.25 289.75,170.62 290.50,170.99 291.25,171.36 292.00,171.73 292.75,172.10 293.50,172.47 294.25,172.84 295.00,173.21 295.75,173.58 296.50,173.95 297.25,174.33 298.00,174.71 298.75,175.09 299.50,175.47 300.25,175.85 301.00,176.23 301.75,176.62 302.50,177.00 303.25,177.31 304.00,177.38 304.75,177.44 305.50,177.50 306.25,177.57 307.00,177.63 307.75,177.70 308.50,177.76 309.25,177.82 310.00,177.89 310.75,177.95 311.50,178.17 312.25,178.83 313.00,179.48 313.75,180.14 314.50,180.79 315.25,181.45 316.00,182.10 316.75,182.76 317.50,183.29 318.25,183.81 319.00,184.33 319.75,184.85 320.50,185.37 321.25,185.90 322.00,186.42 322.75,186.94 323.50,187.46 324.25,187.93 325.00,188.38 325.75,188.84 326.50,189.29 327.25,189.74 328.00,190.19 328.75,190.64 329.50,191.10 330.25,191.55 331.00,192.05 331.75,192.57 332.50,193.09 333.25,193.61 334.00,194.13 334.75,194.66 335.50,195.18 336.25,195.70 337.00,196.22 337.75,196.61 338.50,196.83 339.25,197.06 340.00,197.29 340.75,197.52 341.50,197.75 342.25,197.98 343.00,198.20 343.75,198.43 344.50,198.70 345.25,199.07 346.00,199.44 346.75,199.81 347.50,200.18 348.25,200.55 349.00,200.92 349.75,201.29 350.50,201.66 351.25,202.01 352.00,202.15 352.75,202.29 353.50,202.42 354.25,202.56 355.00,202.70 355.75,202.99 356.50,203.29 357.25,203.58 358.00,203.88 358.75,204.17 359.50,204.46 360.25,204.76 361.00,205.05 361.75,205.34 362.50,205.64 363.25,205.93 364.00,206.22 364.75,206.52 365.50,206.81 366.25,207.11 367.00,207.40 367.75,207.59 368.50,207.78 369.25,207.97 370.00,208.16 370.75,208.35 371.50,208.54 372.25,208.73 373.00,208.92 373.75,209.11 374.50,209.30 375.25,209.49 376.00,209.68 376.75,209.88 377.50,210.07 378.25,210.26 379.00,210.45 379.75,210.64 380.50,210.89 381.25,211.18 382.00,211.46 382.75,211.75 383.50,212.04 384.25,212.32 385.00,212.61 385.75,212.90 386.50,213.18 387.25,213.47 388.00,213.76 388.75,214.04 389.50,214.33 390.25,214.61 391.00,214.90 391.75,215.19 392.50,215.47 393.25,215.76 394.00,216.05 394.75,216.27 395.50,216.43 396.25,216.59 397.00,216.75 397.75,216.91 398.50,217.06 399.25,217.22 400.00,217.38 400.75,217.54 401.50,217.70 402.25,217.86 403.00,218.01 403.75,218.17 404.50,218.33 405.25,218.49 406.00,218.65 406.75,218.81 407.50,218.97 408.25,219.14 409.00,219.31 409.75,219.48 410.50,219.66 411.25,219.83 412.00,220.00 412.75,220.17 413.50,220.34 414.25,220.52 415.00,220.69 415.75,220.86 416.50,221.03 417.25,221.20 418.00,221.38 418.75,221.55 419.50,221.72 420.25,221.89 421.00,222.06 421.75,222.24 422.50,222.45 423.25,222.65 424.00,222.86 424.75,223.06 425.50,223.27 426.25,223.47 427.00,223.68 427.75,223.88 428.50,224.09 429.25,224.29 430.00,224.50 430.75,224.70 431.50,224.91 432.25,225.11 433.00,225.32 433.75,225.52 434.50,225.72 435.25,225.86 436.00,226.00 436.75,226.14 437.50,226.28 438.25,226.42 439.00,226.56 439.75,226.70 440.50,226.84 441.25,226.98 442.00,227.12 442.75,227.27 443.50,227.41 444.25,227.55 445.00,227.69 445.75,227.83 446.50,227.97 447.25,228.11 448.00,228.25 448.75,228.39 449.50,228.50 450.25,228.62 451.00,228.73 451.75,228.84 452.50,228.95 453.25,229.07 454.00,229.18 454.75,229.29 455.50,229.40 456.25,229.51 457.00,229.63 457.75,229.74 458.50,229.85 459.25,229.96 460.00,230.08 460.75,230.19 461.50,230.30 462.25,230.30 463.00,230.30 463.75,230.30 464.50,230.30 465.25,230.30 466.00,230.30 466.75,230.30 467.50,230.25 468.25,230.18 469.00,230.10 469.75,230.03 470.50,229.95 471.25,229.88 472.00,229.80 472.75,229.72 473.50,229.72 474.25,229.75 475.00,229.79 475.75,229.82 476.50,229.85 477.25,229.88 478.00,229.91 478.75,229.95 479.50,229.98 480.25,229.97 481.00,229.90 481.75,229.82 482.50,229.75 483.25,229.67 484.00,229.60 484.75,229.53 485.50,229.45 486.25,229.38 487.00,229.30 487.75,229.22 488.50,228.96 489.25,228.59 490.00,228.23 490.75,227.86 491.50,227.50 492.25,227.14 493.00,226.77 493.75,226.41 494.50,226.04 495.25,225.75 496.00,225.58 496.75,225.42 497.50,225.26 498.25,225.09 499.00,224.93 499.75,224.76 500.50,224.55 501.25,224.35 502.00,224.15 502.75,223.94 503.50,223.74 504.25,223.53 505.00,223.33 505.75,223.12 506.50,222.92 507.25,222.71 508.00,222.51 508.75,222.30 509.50,222.10 510.25,221.90 511.00,221.94 511.75,222.19 512.50,222.45 513.25,222.70 514.00,222.96 514.75,223.17 515.50,222.71 516.25,222.26 517.00,221.80 517.75,221.34 518.50,220.89 519.25,220.43 520.00,219.97 520.75,219.52 521.50,219.06 522.25,218.60 523.00,218.14 523.75,217.67 524.50,217.21 525.25,216.74 526.00,216.24 526.75,215.75 527.50,215.25 528.25,214.76 529.00,214.27 529.75,213.65 530.50,213.00 531.25,212.36 532.00,211.72 532.75,211.08 533.50,210.67 534.25,210.59 535.00,210.50 535.75,210.42 536.50,210.34 537.25,210.26 538.00,210.18 538.75,210.06 539.50,209.46 540.25,208.86 541.00,208.26 541.75,207.66 542.50,206.69 543.25,205.16 544.00,203.63 544.75,202.11 545.50,201.53 546.25,201.19 547.00,200.85 547.75,200.50 548.50,200.16 549.25,199.82 550.00,199.48 550.75,199.29 551.50,199.25 552.25,199.22 553.00,199.19 553.75,199.16 554.50,199.13 555.25,198.93 556.00,196.41 556.75,193.90 557.50,191.38 558.25,189.68 559.00,189.61 559.75,189.55 560.50,189.48 561.25,189.42 562.00,189.35 562.75,189.28 563.50,189.22 564.25,189.15 565.00,189.09 565.75,189.02 566.50,188.96 567.25,188.89 568.00,188.83 568.75,187.44 569.50,185.16 570.25,182.89 571.00,180.62 571.75,178.48 572.50,178.25 573.25,178.02 574.00,177.79 574.75,177.56 575.50,177.33 576.25,177.09 577.00,176.86 577.75,176.75 578.50,176.69 579.25,176.63 580.00,176.57 580.75,176.50 581.50,176.44 582.25,175.84 583.00,174.16 583.75,172.49 584.50,170.81 585.25,169.14 586.00,168.69 586.75,168.55 587.50,168.40 588.25,168.26 589.00,168.12 589.75,167.98 590.50,167.84 591.25,167.70 592.00,167.56 592.75,167.27 593.50,166.89 594.25,166.50 595.00,166.12 595.75,165.73 596.50,165.09 597.25,162.73 598.00,160.37 598.75,158.01 599.50,155.66 600.25,154.50 601.00,154.72 601.75,154.94 602.50,155.16 603.25,155.38 604.00,155.60 604.75,155.84 605.50,156.37 606.25,156.90 607.00,157.43 607.75,157.96 608.50,158.49 609.25,159.02 610.00,157.22 610.75,154.25 611.50,151.27 612.25,148.52 613.00,148.82 613.75,149.12 614.50,149.43 615.25,149.73 616.00,150.03 616.75,150.33 617.50,150.64 618.25,150.94 619.00,151.16 619.75,151.37 620.50,151.57 621.25,151.78 622.00,151.98 622.75,152.19 623.50,150.55 624.25,148.79 625.00,147.02 625.75,145.26 626.50,144.23 627.25,144.30 628.00,144.37 628.75,144.44 629.50,144.51 630.25,144.59 631.00,144.88 631.75,145.22 632.50,145.56 633.25,145.91 634.00,146.25 634.75,146.60 635.50,146.94 636.25,147.29 637.00,145.44 637.75,142.51 638.50,139.57 639.25,136.64 640.00,133.70 640.75,133.44 641.50,133.18 642.25,133.24 643.00,133.97 643.75,134.70 644.50,135.43 645.25,136.16 646.00,136.68 646.75,137.10 647.50,137.53 648.25,137.95 649.00,138.37 649.75,138.79 650.50,138.24 651.25,135.02 652.00,131.80 652.75,128.57 653.50,127.71 654.25,128.02 655.00,128.33 655.75,128.65 656.50,128.96 657.25,129.27 658.00,129.47 658.75,129.38 659.50,129.28 660.25,129.19 661.00,129.09 661.75,129.00 662.50,128.90 663.25,128.81 664.00,126.75 664.75,124.55 665.50,122.36 666.25,120.66 667.00,120.97 667.75,121.27 668.50,121.58 669.25,121.64 670.00,121.54 670.75,121.44 671.50,121.34 672.25,121.24 673.00,121.14 673.75,121.04 674.50,120.94 675.25,120.85 676.00,120.75 676.75,120.65 677.50,120.16 678.25,119.32 679.00,118.49 679.75,117.66 680.50,117.69 681.25,117.78 682.00,117.87 682.75,117.96 683.50,118.05 684.25,118.04 685.00,117.92 685.75,117.80 686.50,117.67 687.25,117.55 688.00,117.43 688.75,117.31 689.50,117.21 690.25,117.30 691.00,117.38 691.75,117.47 692.50,117.55 693.25,117.39 694.00,116.93 694.75,116.47 695.50,116.01 696.25,115.56 697.00,115.10 697.75,115.34 698.50,115.59 699.25,115.83 700.00,116.07 700.75,116.20 701.50,116.20 702.25,116.20 703.00,116.20 703.75,116.20 704.50,116.20 705.25,116.20 706.00,116.20 706.75,116.20 707.50,116.04 708.25,115.46 709.00,114.87 709.75,114.29 710.50,113.70 711.25,113.12 712.00,113.24 712.75,113.53 713.50,113.82 714.25,114.08 715.00,113.83 715.75,113.58 716.00,113.50" fill="none" stroke="#a456f9" stroke-width="0.7" stroke-opacity="0.6" stroke-linejoin="round"/>
<line x1="67" y1="89.5" x2="67" y2="394.5" class="axis"/>
<line x1="66.5" y1="394.0" x2="716.0" y2="394.0" class="axisx"/>
<line x1="63" y1="394.0" x2="67.5" y2="394.0" class="tick"/>
<text x="59.6" y="399.5" class="yl">0</text>
<line x1="64.5" y1="377.1" x2="67.5" y2="377.1" class="tick"/>
<line x1="63" y1="360.2" x2="67.5" y2="360.2" class="tick"/>
<text x="59.6" y="365.7" class="yl">4</text>
<line x1="64.5" y1="343.3" x2="67.5" y2="343.3" class="tick"/>
<line x1="63" y1="326.4" x2="67.5" y2="326.4" class="tick"/>
<text x="59.6" y="331.9" class="yl">8</text>
<line x1="64.5" y1="309.6" x2="67.5" y2="309.6" class="tick"/>
<line x1="63" y1="292.7" x2="67.5" y2="292.7" class="tick"/>
<text x="59.6" y="298.2" class="yl">12</text>
<line x1="64.5" y1="275.8" x2="67.5" y2="275.8" class="tick"/>
<line x1="63" y1="258.9" x2="67.5" y2="258.9" class="tick"/>
<text x="59.6" y="264.4" class="yl">16</text>
<line x1="64.5" y1="242.0" x2="67.5" y2="242.0" class="tick"/>
<line x1="63" y1="225.1" x2="67.5" y2="225.1" class="tick"/>
<text x="59.6" y="230.6" class="yl">20</text>
<line x1="64.5" y1="208.2" x2="67.5" y2="208.2" class="tick"/>
<line x1="63" y1="191.3" x2="67.5" y2="191.3" class="tick"/>
<text x="59.6" y="196.8" class="yl">24</text>
<line x1="64.5" y1="174.4" x2="67.5" y2="174.4" class="tick"/>
<line x1="63" y1="157.6" x2="67.5" y2="157.6" class="tick"/>
<text x="59.6" y="163.1" class="yl">28</text>
<line x1="64.5" y1="140.7" x2="67.5" y2="140.7" class="tick"/>
<line x1="63" y1="123.8" x2="67.5" y2="123.8" class="tick"/>
<text x="59.6" y="129.3" class="yl">32</text>
<line x1="64.5" y1="106.9" x2="67.5" y2="106.9" class="tick"/>
<line x1="63" y1="90.0" x2="67.5" y2="90.0" class="tick"/>
<text x="59.6" y="95.5" class="yl">36</text>
<line x1="136.95" y1="394.0" x2="136.95" y2="398.0" class="xtick"/>
<text x="136.95" y="431.3" class="xl">15:00</text>
<line x1="218.07" y1="394.0" x2="218.07" y2="398.0" class="xtick"/>
<text x="218.07" y="431.3" class="xl">18:00</text>
<line x1="299.19" y1="394.0" x2="299.19" y2="398.0" class="xtick"/>
<text x="299.19" y="431.3" class="xl">21:00</text>
<line x1="380.31" y1="394.0" x2="380.31" y2="398.0" class="xtick"/>
<text x="380.31" y="431.3" class="xl">Tue</text>
<line x1="461.43" y1="394.0" x2="461.43" y2="398.0" class="xtick"/>
<text x="461.43" y="431.3" class="xl">03:00</text>
<line x1="542.55" y1="394.0" x2="542.55" y2="398.0" class="xtick"/>
<text x="542.55" y="431.3" class="xl">06:00</text>
<line x1="623.6700000000001" y1="394.0" x2="623.6700000000001" y2="398.0" class="xtick"/>
<text x="623.6700000000001" y="431.3" class="xl">09:00</text>
<line x1="704.79" y1="394.0" x2="704.79" y2="398.0" class="xtick"/>
<text x="704.79" y="431.3" class="xl">12:00</text>
<text transform="translate(32.9 242.5) rotate(-90)" class="ylab">Dispatchable GW</text>
</svg>
<label class="li" style="left:19px;top:458.00px;color:#808080"><span class="cb on"><svg viewBox="0 0 13 13" width="13" height="13"><path d="M2.6 6.9 L5.4 9.7 L10.4 3.0" fill="none" stroke="#fff" stroke-width="2" stroke-linecap="butt" stroke-linejoin="miter"/></svg></span><span class="lt">Black Coal</span></label>
<label class="li" style="left:197px;top:458.00px;color:#c9a03c"><span class="cb on"><svg viewBox="0 0 13 13" width="13" height="13"><path d="M2.6 6.9 L5.4 9.7 L10.4 3.0" fill="none" stroke="#fff" stroke-width="2" stroke-linecap="butt" stroke-linejoin="miter"/></svg></span><span class="lt">Brown Coal</span></label>
<label class="li" style="left:375px;top:458.00px;color:#8a3fd8"><span class="cb on"><svg viewBox="0 0 13 13" width="13" height="13"><path d="M2.6 6.9 L5.4 9.7 L10.4 3.0" fill="none" stroke="#fff" stroke-width="2" stroke-linecap="butt" stroke-linejoin="miter"/></svg></span><span class="lt">Natural Gas</span></label>
<label class="li" style="left:553px;top:458.00px;color:#d636b2"><span class="cb on"><svg viewBox="0 0 13 13" width="13" height="13"><path d="M2.6 6.9 L5.4 9.7 L10.4 3.0" fill="none" stroke="#fff" stroke-width="2" stroke-linecap="butt" stroke-linejoin="miter"/></svg></span><span class="lt">Natural Gas / Diesel</span></label>
<label class="li" style="left:19px;top:489.00px;color:#d62728"><span class="cb on"><svg viewBox="0 0 13 13" width="13" height="13"><path d="M2.6 6.9 L5.4 9.7 L10.4 3.0" fill="none" stroke="#fff" stroke-width="2" stroke-linecap="butt" stroke-linejoin="miter"/></svg></span><span class="lt">Natural Gas / Fuel Oil</span></label>
<label class="li" style="left:197px;top:489.00px;color:#3cc8d4"><span class="cb on"><svg viewBox="0 0 13 13" width="13" height="13"><path d="M2.6 6.9 L5.4 9.7 L10.4 3.0" fill="none" stroke="#fff" stroke-width="2" stroke-linecap="butt" stroke-linejoin="miter"/></svg></span><span class="lt">Water</span></label>
<label class="li" style="left:375px;top:489.00px;color:#7ed321"><span class="cb on"><svg viewBox="0 0 13 13" width="13" height="13"><path d="M2.6 6.9 L5.4 9.7 L10.4 3.0" fill="none" stroke="#fff" stroke-width="2" stroke-linecap="butt" stroke-linejoin="miter"/></svg></span><span class="lt">Wind</span></label>
<label class="li" style="left:553px;top:489.00px;color:#fb1212"><span class="cb on"><svg viewBox="0 0 13 13" width="13" height="13"><path d="M2.6 6.9 L5.4 9.7 L10.4 3.0" fill="none" stroke="#fff" stroke-width="2" stroke-linecap="butt" stroke-linejoin="miter"/></svg></span><span class="lt">Solar</span></label>
<label class="li" style="left:19px;top:520.00px;color:#ffba1c"><span class="cb on"><svg viewBox="0 0 13 13" width="13" height="13"><path d="M2.6 6.9 L5.4 9.7 L10.4 3.0" fill="none" stroke="#fff" stroke-width="2" stroke-linecap="butt" stroke-linejoin="miter"/></svg></span><span class="lt">Rooftop Solar</span></label>
<label class="li" style="left:197px;top:520.00px;color:#14f548"><span class="cb on"><svg viewBox="0 0 13 13" width="13" height="13"><path d="M2.6 6.9 L5.4 9.7 L10.4 3.0" fill="none" stroke="#fff" stroke-width="2" stroke-linecap="butt" stroke-linejoin="miter"/></svg></span><span class="lt">Coal Seam Methane</span></label>
<label class="li" style="left:375px;top:520.00px;color:#33cc66"><span class="cb on"><svg viewBox="0 0 13 13" width="13" height="13"><path d="M2.6 6.9 L5.4 9.7 L10.4 3.0" fill="none" stroke="#fff" stroke-width="2" stroke-linecap="butt" stroke-linejoin="miter"/></svg></span><span class="lt">Diesel</span></label>
<label class="li" style="left:553px;top:520.00px;color:#3a5fcd"><span class="cb on"><svg viewBox="0 0 13 13" width="13" height="13"><path d="M2.6 6.9 L5.4 9.7 L10.4 3.0" fill="none" stroke="#fff" stroke-width="2" stroke-linecap="butt" stroke-linejoin="miter"/></svg></span><span class="lt">Kerosene</span></label>
<label class="li" style="left:19px;top:550.00px;color:#1433ff"><span class="cb on"><svg viewBox="0 0 13 13" width="13" height="13"><path d="M2.6 6.9 L5.4 9.7 L10.4 3.0" fill="none" stroke="#fff" stroke-width="2" stroke-linecap="butt" stroke-linejoin="miter"/></svg></span><span class="lt">Waste Coal Mine Gas</span></label>
<label class="li" style="left:197px;top:550.00px;color:#80f040"><span class="cb on"><svg viewBox="0 0 13 13" width="13" height="13"><path d="M2.6 6.9 L5.4 9.7 L10.4 3.0" fill="none" stroke="#fff" stroke-width="2" stroke-linecap="butt" stroke-linejoin="miter"/></svg></span><span class="lt">Bagasse</span></label>
<label class="li" style="left:375px;top:550.00px;color:#3b4fd8"><span class="cb on"><svg viewBox="0 0 13 13" width="13" height="13"><path d="M2.6 6.9 L5.4 9.7 L10.4 3.0" fill="none" stroke="#fff" stroke-width="2" stroke-linecap="butt" stroke-linejoin="miter"/></svg></span><span class="lt">Bagasse and Diesel</span></label>
<label class="li" style="left:553px;top:550.00px;color:#8f14f2"><span class="cb on"><svg viewBox="0 0 13 13" width="13" height="13"><path d="M2.6 6.9 L5.4 9.7 L10.4 3.0" fill="none" stroke="#fff" stroke-width="2" stroke-linecap="butt" stroke-linejoin="miter"/></svg></span><span class="lt">Grid</span></label>
<label class="li" style="left:19px;top:581.00px;color:#d42020"><span class="cb on"><svg viewBox="0 0 13 13" width="13" height="13"><path d="M2.6 6.9 L5.4 9.7 L10.4 3.0" fill="none" stroke="#fff" stroke-width="2" stroke-linecap="butt" stroke-linejoin="miter"/></svg></span><span class="lt">solar</span></label>
<label class="li" style="left:197px;top:581.00px;color:#111111"><span class="cb off"></span><span class="lt">Total</span></label>
</body>
</html>
